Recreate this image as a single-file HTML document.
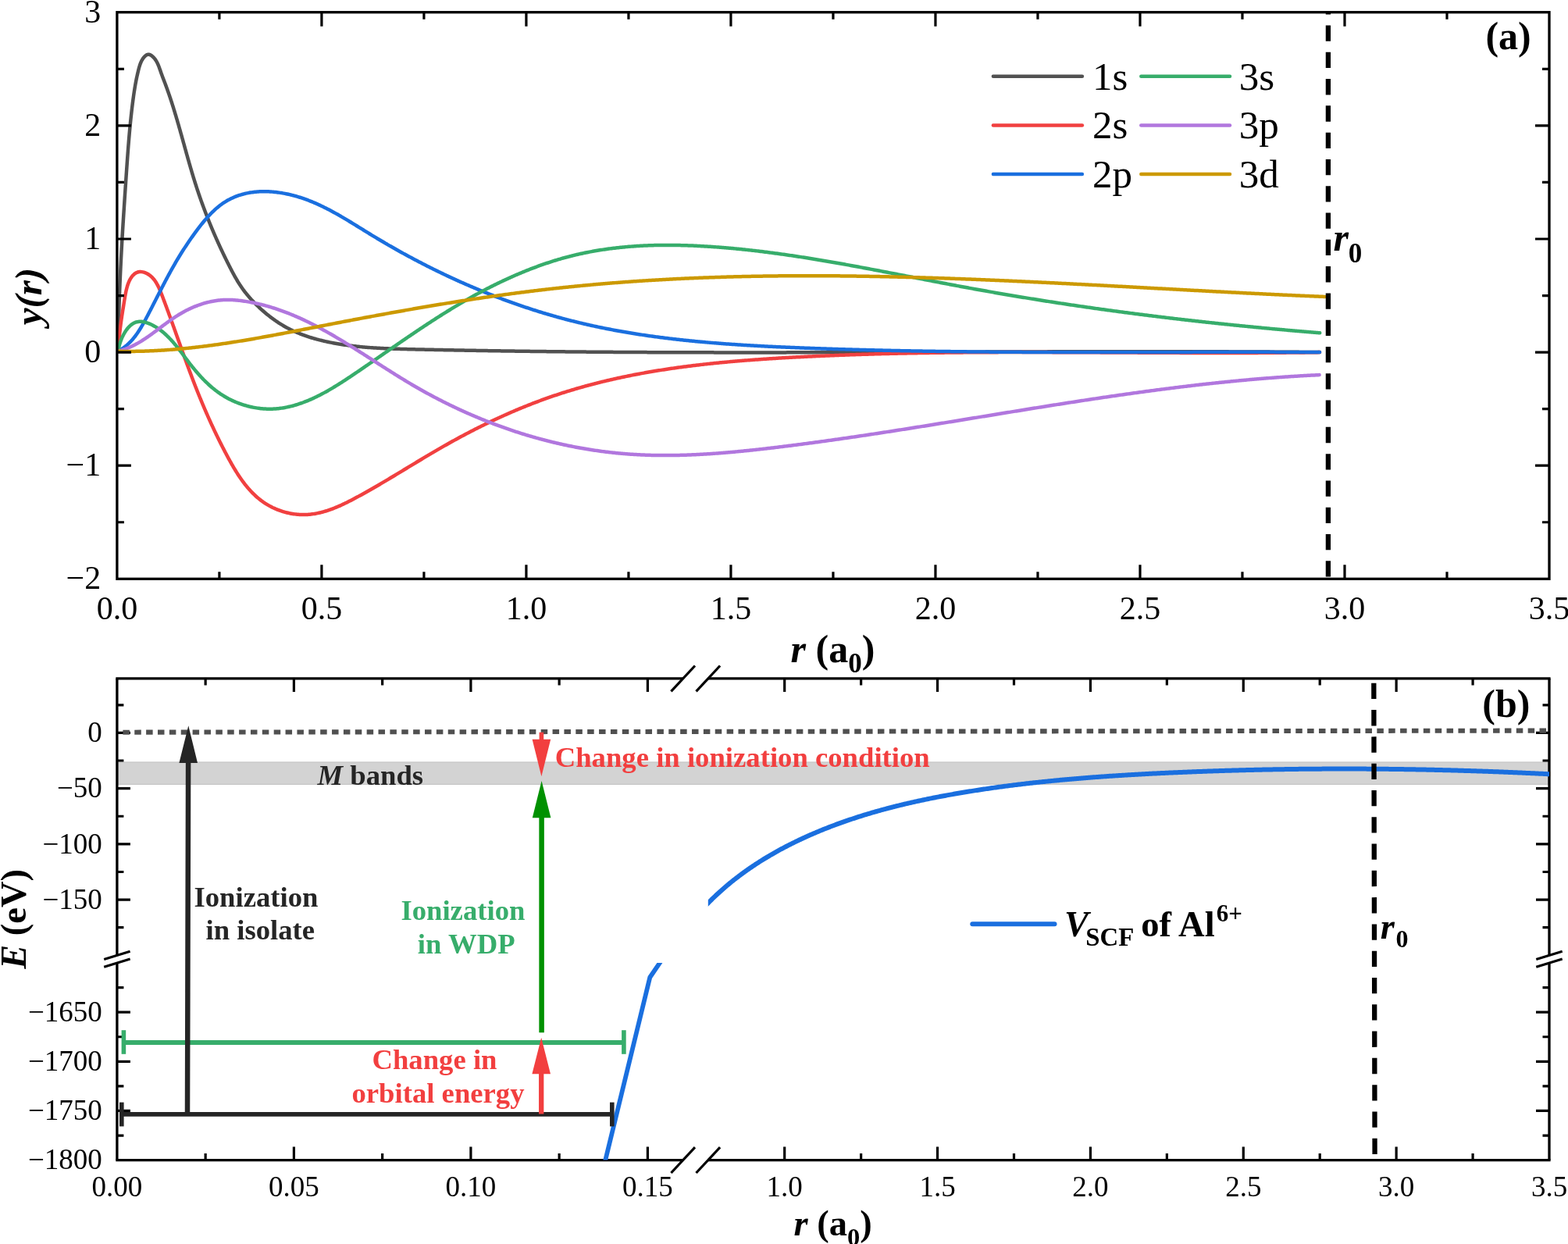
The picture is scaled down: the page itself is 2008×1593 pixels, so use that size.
<!DOCTYPE html>
<html><head><meta charset="utf-8"><title>Figure</title>
<style>html,body{margin:0;padding:0;background:#fff;}svg{display:block;}</style>
</head><body>
<svg width="2008" height="1593" viewBox="0 0 2008 1593">
<rect x="0" y="0" width="2008" height="1593" fill="#ffffff"/>
<g fill="none" stroke-width="4.5" stroke-linecap="round" stroke-linejoin="round">
<path d="M151.50,449.50 L151.51,448.00 L151.51,446.50 L151.52,445.00 L151.53,443.49 L151.54,441.99 L151.55,440.49 L151.56,438.99 L151.58,437.49 L151.59,435.99 L151.61,434.49 L151.63,432.99 L151.64,431.49 L151.66,429.99 L151.68,428.49 L151.70,426.99 L151.73,425.49 L151.75,423.99 L151.78,422.49 L151.80,420.99 L151.83,419.49 L151.86,417.99 L151.89,416.49 L151.92,414.99 L151.95,413.49 L151.98,411.99 L152.01,410.49 L152.05,408.99 L152.08,407.49 L152.12,405.99 L152.16,404.49 L152.19,403.00 L152.23,401.50 L152.27,400.00 L152.32,398.50 L152.36,397.00 L152.40,395.50 L152.44,394.00 L152.49,392.51 L152.54,391.01 L152.58,389.51 L152.63,388.01 L152.68,386.51 L152.73,385.02 L152.78,383.52 L152.83,382.02 L152.88,380.52 L152.93,379.03 L152.99,377.53 L153.04,376.03 L153.10,374.53 L153.16,373.04 L153.21,371.54 L153.27,370.04 L153.33,368.54 L153.39,367.05 L153.45,365.55 L153.51,364.05 L153.57,362.56 L153.64,361.06 L153.70,359.56 L153.76,358.06 L153.83,356.57 L153.89,355.07 L153.96,353.57 L154.03,352.08 L154.10,350.58 L154.17,349.08 L154.23,347.59 L154.31,346.09 L154.38,344.59 L154.45,343.10 L154.52,341.60 L154.59,340.10 L154.67,338.61 L154.74,337.11 L154.82,335.62 L154.89,334.12 L154.97,332.62 L155.04,331.13 L155.12,329.63 L155.20,328.13 L155.28,326.64 L155.36,325.14 L155.44,323.65 L155.52,322.15 L155.60,320.65 L155.68,319.16 L155.76,317.66 L155.85,316.16 L155.93,314.67 L156.01,313.17 L156.10,311.68 L156.18,310.18 L156.27,308.68 L156.35,307.19 L156.44,305.69 L156.53,304.20 L156.61,302.70 L156.70,301.20 L156.79,299.71 L156.88,298.21 L156.97,296.71 L157.06,295.22 L157.15,293.72 L157.24,292.23 L157.33,290.73 L157.42,289.23 L157.51,287.74 L157.60,286.24 L157.70,284.75 L157.79,283.25 L157.88,281.75 L157.98,280.26 L158.07,278.76 L158.17,277.26 L158.26,275.77 L158.36,274.27 L158.45,272.78 L158.55,271.28 L158.64,269.78 L158.74,268.29 L158.84,266.79 L158.93,265.29 L159.03,263.80 L159.13,262.30 L159.23,260.80 L159.33,259.31 L159.42,257.81 L159.52,256.31 L159.62,254.82 L159.72,253.32 L159.82,251.82 L159.92,250.33 L160.02,248.83 L160.12,247.33 L160.22,245.84 L160.32,244.34 L160.42,242.84 L160.52,241.35 L160.62,239.85 L160.72,238.35 L160.83,236.85 L160.93,235.36 L161.03,233.86 L161.13,232.36 L161.23,230.86 L161.34,229.37 L161.44,227.87 L161.54,226.37 L161.64,224.87 L161.74,223.38 L161.85,221.88 L161.95,220.38 L162.05,218.88 L162.16,217.38 L162.26,215.89 L162.36,214.39 L162.47,212.89 L162.57,211.39 L162.68,209.89 L162.78,208.40 L162.89,206.90 L163.00,205.40 L163.10,203.90 L163.21,202.41 L163.32,200.91 L163.43,199.41 L163.54,197.91 L163.65,196.42 L163.76,194.92 L163.87,193.42 L163.99,191.93 L164.10,190.43 L164.22,188.93 L164.33,187.44 L164.45,185.94 L164.57,184.45 L164.69,182.95 L164.81,181.45 L164.93,179.96 L165.06,178.46 L165.18,176.97 L165.31,175.48 L165.44,173.98 L165.57,172.49 L165.70,171.00 L165.83,169.50 L165.97,168.01 L166.10,166.52 L166.24,165.03 L166.38,163.53 L166.52,162.04 L166.67,160.55 L166.81,159.06 L166.96,157.57 L167.11,156.08 L167.26,154.59 L167.41,153.11 L167.57,151.62 L167.72,150.13 L167.88,148.64 L168.04,147.16 L168.21,145.67 L168.37,144.19 L168.54,142.70 L168.71,141.22 L168.89,139.73 L169.06,138.25 L169.24,136.77 L169.42,135.28 L169.61,133.80 L169.79,132.32 L169.98,130.84 L170.17,129.36 L170.37,127.88 L170.57,126.40 L170.77,124.93 L170.97,123.45 L171.18,121.97 L171.39,120.49 L171.61,119.02 L171.83,117.54 L172.06,116.06 L172.30,114.59 L172.53,113.11 L172.78,111.64 L173.03,110.16 L173.29,108.69 L173.55,107.21 L173.82,105.73 L174.10,104.26 L174.39,102.78 L174.68,101.31 L174.99,99.83 L175.30,98.35 L175.62,96.87 L175.94,95.40 L176.28,93.92 L176.63,92.44 L176.99,90.96 L177.35,89.48 L177.73,88.00 L178.13,86.52 L178.55,85.06 L179.01,83.60 L179.50,82.17 L180.04,80.75 L180.64,79.37 L181.29,78.01 L182.01,76.69 L182.81,75.40 L183.69,74.17 L184.65,72.98 L185.70,71.88 L186.82,70.93 L188.01,70.21 L189.24,69.79 L190.51,69.73 L191.81,70.03 L193.09,70.64 L194.35,71.48 L195.54,72.48 L196.65,73.56 L197.68,74.70 L198.62,75.89 L199.48,77.13 L200.28,78.41 L201.01,79.73 L201.69,81.08 L202.33,82.45 L202.92,83.86 L203.48,85.27 L204.02,86.71 L204.53,88.15 L205.03,89.60 L205.53,91.05 L206.03,92.49 L206.54,93.92 L207.05,95.35 L207.57,96.76 L208.10,98.18 L208.63,99.58 L209.17,100.98 L209.70,102.38 L210.24,103.78 L210.77,105.18 L211.30,106.57 L211.83,107.97 L212.35,109.37 L212.86,110.77 L213.38,112.18 L213.88,113.58 L214.39,114.99 L214.89,116.39 L215.38,117.80 L215.88,119.22 L216.36,120.63 L216.85,122.04 L217.33,123.46 L217.81,124.88 L218.28,126.29 L218.75,127.71 L219.22,129.13 L219.68,130.56 L220.14,131.98 L220.60,133.40 L221.05,134.83 L221.50,136.26 L221.95,137.69 L222.39,139.11 L222.84,140.55 L223.28,141.98 L223.71,143.41 L224.15,144.84 L224.58,146.28 L225.01,147.71 L225.44,149.15 L225.87,150.58 L226.29,152.02 L226.72,153.46 L227.14,154.90 L227.55,156.34 L227.97,157.78 L228.39,159.22 L228.80,160.66 L229.21,162.10 L229.63,163.54 L230.04,164.99 L230.45,166.43 L230.85,167.87 L231.26,169.32 L231.67,170.76 L232.07,172.21 L232.48,173.65 L232.88,175.10 L233.28,176.54 L233.69,177.99 L234.09,179.44 L234.49,180.88 L234.89,182.33 L235.29,183.77 L235.70,185.22 L236.10,186.67 L236.50,188.11 L236.90,189.56 L237.30,191.01 L237.71,192.45 L238.11,193.90 L238.51,195.34 L238.92,196.79 L239.32,198.24 L239.73,199.68 L240.13,201.13 L240.54,202.57 L240.95,204.01 L241.36,205.46 L241.77,206.90 L242.18,208.34 L242.60,209.79 L243.01,211.23 L243.43,212.67 L243.85,214.11 L244.27,215.55 L244.69,216.99 L245.11,218.43 L245.54,219.87 L245.97,221.30 L246.40,222.74 L246.83,224.17 L247.26,225.61 L247.70,227.04 L248.14,228.48 L248.58,229.91 L249.03,231.34 L249.48,232.77 L249.93,234.20 L250.38,235.62 L250.84,237.05 L251.29,238.48 L251.76,239.90 L252.22,241.32 L252.69,242.75 L253.16,244.17 L253.64,245.59 L254.12,247.01 L254.60,248.42 L255.08,249.84 L255.57,251.25 L256.06,252.67 L256.56,254.08 L257.05,255.49 L257.55,256.90 L258.06,258.31 L258.56,259.72 L259.07,261.13 L259.59,262.53 L260.10,263.94 L260.62,265.34 L261.14,266.74 L261.67,268.14 L262.20,269.54 L262.73,270.94 L263.26,272.34 L263.80,273.73 L264.34,275.13 L264.89,276.52 L265.43,277.92 L265.98,279.31 L266.53,280.70 L267.09,282.09 L267.65,283.48 L268.21,284.86 L268.78,286.25 L269.34,287.64 L269.91,289.02 L270.49,290.40 L271.06,291.78 L271.64,293.16 L272.23,294.54 L272.81,295.92 L273.40,297.30 L273.99,298.68 L274.58,300.05 L275.18,301.42 L275.78,302.80 L276.39,304.17 L276.99,305.54 L277.60,306.91 L278.21,308.28 L278.83,309.64 L279.44,311.01 L280.06,312.38 L280.69,313.74 L281.31,315.10 L281.94,316.46 L282.57,317.83 L283.21,319.18 L283.84,320.54 L284.48,321.90 L285.13,323.26 L285.77,324.61 L286.42,325.97 L287.07,327.32 L287.73,328.67 L288.38,330.02 L289.04,331.37 L289.71,332.72 L290.37,334.07 L291.04,335.42 L291.71,336.76 L292.38,338.11 L293.06,339.45 L293.74,340.79 L294.42,342.13 L295.11,343.47 L295.80,344.81 L296.49,346.15 L297.19,347.48 L297.89,348.81 L298.60,350.13 L299.32,351.45 L300.04,352.77 L300.77,354.08 L301.51,355.38 L302.26,356.68 L303.01,357.98 L303.78,359.26 L304.55,360.54 L305.33,361.82 L306.13,363.08 L306.93,364.34 L307.75,365.59 L308.58,366.82 L309.42,368.05 L310.27,369.27 L311.14,370.48 L312.02,371.68 L312.91,372.87 L313.82,374.05 L314.74,375.21 L315.67,376.37 L316.62,377.52 L317.57,378.66 L318.54,379.79 L319.52,380.92 L320.50,382.03 L321.50,383.14 L322.51,384.23 L323.53,385.32 L324.56,386.40 L325.60,387.48 L326.64,388.54 L327.70,389.60 L328.76,390.65 L329.83,391.70 L330.92,392.74 L332.00,393.76 L333.10,394.79 L334.21,395.80 L335.32,396.81 L336.44,397.80 L337.57,398.79 L338.71,399.77 L339.85,400.74 L341.00,401.70 L342.17,402.65 L343.33,403.60 L344.51,404.53 L345.70,405.45 L346.89,406.36 L348.09,407.26 L349.30,408.16 L350.51,409.04 L351.74,409.91 L352.97,410.76 L354.21,411.61 L355.45,412.45 L356.70,413.27 L357.97,414.08 L359.23,414.88 L360.51,415.67 L361.79,416.44 L363.08,417.21 L364.38,417.96 L365.69,418.69 L367.00,419.41 L368.32,420.12 L369.64,420.82 L370.98,421.50 L372.32,422.17 L373.66,422.82 L375.02,423.46 L376.38,424.09 L377.74,424.71 L379.12,425.31 L380.49,425.90 L381.88,426.47 L383.27,427.04 L384.66,427.59 L386.06,428.13 L387.47,428.66 L388.88,429.18 L390.29,429.68 L391.71,430.18 L393.13,430.66 L394.56,431.14 L395.99,431.60 L397.42,432.05 L398.86,432.49 L400.30,432.93 L401.75,433.35 L403.19,433.76 L404.65,434.16 L406.10,434.56 L407.55,434.94 L409.01,435.32 L410.47,435.68 L411.93,436.04 L413.40,436.39 L414.86,436.73 L416.33,437.07 L417.80,437.39 L419.27,437.71 L420.74,438.02 L422.21,438.33 L423.68,438.62 L425.15,438.91 L426.62,439.20 L428.10,439.47 L429.57,439.74 L431.05,440.00 L432.52,440.26 L434.00,440.51 L435.48,440.75 L436.96,440.98 L438.44,441.21 L439.92,441.44 L441.40,441.66 L442.88,441.87 L444.36,442.07 L445.84,442.27 L447.32,442.47 L448.81,442.66 L450.29,442.84 L451.78,443.02 L453.26,443.19 L454.75,443.36 L456.23,443.52 L457.72,443.68 L459.21,443.83 L460.69,443.98 L462.18,444.13 L463.67,444.26 L465.16,444.40 L466.65,444.53 L468.14,444.65 L469.63,444.78 L471.12,444.89 L472.62,445.01 L474.11,445.12 L475.60,445.22 L477.09,445.32 L478.59,445.42 L480.08,445.52 L481.58,445.61 L483.07,445.70 L484.56,445.78 L486.06,445.86 L487.55,445.94 L489.05,446.02 L490.55,446.09 L492.04,446.16 L493.54,446.23 L495.04,446.30 L496.53,446.36 L498.03,446.42 L499.53,446.48 L501.03,446.53 L502.52,446.59 L504.02,446.64 L505.52,446.69 L507.02,446.74 L508.52,446.78 L510.02,446.83 L511.52,446.87 L513.02,446.92 L514.52,446.96 L516.02,447.00 L517.51,447.04 L519.01,447.07 L520.51,447.11 L522.01,447.15 L523.51,447.18 L525.01,447.22 L526.51,447.25 L528.01,447.29 L529.51,447.32 L531.01,447.35 L532.51,447.39 L534.01,447.42 L535.51,447.45 L537.01,447.49 L538.51,447.52 L540.01,447.55 L541.51,447.58 L543.01,447.62 L544.51,447.65 L546.01,447.68 L547.51,447.71 L549.01,447.74 L550.51,447.77 L552.01,447.81 L553.51,447.84 L555.01,447.87 L556.51,447.90 L558.01,447.93 L559.51,447.96 L561.01,447.99 L562.51,448.02 L564.01,448.05 L565.51,448.08 L567.01,448.11 L568.51,448.14 L570.01,448.17 L571.51,448.20 L573.01,448.23 L574.51,448.25 L576.01,448.28 L577.51,448.31 L579.01,448.34 L580.51,448.37 L582.01,448.40 L583.51,448.42 L585.01,448.45 L586.51,448.48 L588.01,448.51 L589.51,448.53 L591.01,448.56 L592.51,448.59 L594.01,448.61 L595.51,448.64 L597.01,448.67 L598.51,448.69 L600.01,448.72 L601.51,448.75 L603.01,448.77 L604.51,448.80 L606.01,448.82 L607.51,448.85 L609.01,448.87 L610.51,448.90 L612.01,448.92 L613.50,448.95 L615.00,448.97 L616.50,449.00 L618.00,449.02 L619.50,449.04 L621.00,449.07 L622.50,449.09 L624.00,449.12 L625.50,449.14 L627.00,449.16 L628.50,449.19 L630.00,449.21 L631.50,449.23 L633.00,449.26 L634.50,449.28 L636.00,449.30 L637.50,449.32 L639.00,449.35 L640.50,449.37 L642.00,449.39 L643.50,449.41 L645.00,449.43 L646.50,449.45 L648.00,449.48 L649.50,449.50 L651.00,449.52 L652.50,449.54 L654.00,449.56 L655.50,449.58 L657.00,449.60 L658.49,449.62 L659.99,449.64 L661.49,449.66 L662.99,449.68 L664.49,449.70 L665.99,449.72 L667.49,449.74 L668.99,449.76 L670.49,449.78 L671.99,449.80 L673.49,449.82 L674.99,449.84 L676.49,449.86 L677.99,449.87 L679.49,449.89 L680.99,449.91 L682.49,449.93 L683.99,449.95 L685.49,449.96 L686.99,449.98 L688.49,450.00 L689.99,450.02 L691.49,450.04 L692.98,450.05 L694.48,450.07 L695.98,450.09 L697.48,450.10 L698.98,450.12 L700.48,450.14 L701.98,450.15 L703.48,450.17 L704.98,450.19 L706.48,450.20 L707.98,450.22 L709.48,450.23 L710.98,450.25 L712.48,450.27 L713.98,450.28 L715.48,450.30 L716.98,450.31 L718.48,450.33 L719.98,450.34 L721.48,450.36 L722.97,450.37 L724.47,450.39 L725.97,450.40 L727.47,450.41 L728.97,450.43 L730.47,450.44 L731.97,450.46 L733.47,450.47 L734.97,450.48 L736.47,450.50 L737.97,450.51 L739.47,450.53 L740.97,450.54 L742.47,450.55 L743.97,450.57 L745.47,450.58 L746.97,450.59 L748.46,450.60 L749.96,450.62 L751.46,450.63 L752.96,450.64 L754.46,450.65 L755.96,450.67 L757.46,450.68 L758.96,450.69 L760.46,450.70 L761.96,450.71 L763.46,450.72 L764.96,450.74 L766.46,450.75 L767.96,450.76 L769.46,450.77 L770.96,450.78 L772.46,450.79 L773.95,450.80 L775.45,450.81 L776.95,450.82 L778.45,450.83 L779.95,450.84 L781.45,450.85 L782.95,450.86 L784.45,450.87 L785.95,450.88 L787.45,450.89 L788.95,450.90 L790.45,450.91 L791.95,450.92 L793.45,450.93 L794.95,450.94 L796.44,450.95 L797.94,450.96 L799.44,450.97 L800.94,450.98 L802.44,450.99 L803.94,451.00 L805.44,451.00 L806.94,451.01 L808.44,451.02 L809.94,451.03 L811.44,451.04 L812.94,451.05 L814.44,451.05 L815.94,451.06 L817.43,451.07 L818.93,451.08 L820.43,451.08 L821.93,451.09 L823.43,451.10 L824.93,451.11 L826.43,451.11 L827.93,451.12 L829.43,451.13 L830.93,451.13 L832.43,451.14 L833.93,451.15 L835.43,451.15 L836.93,451.16 L838.42,451.17 L839.92,451.17 L841.42,451.18 L842.92,451.19 L844.42,451.19 L845.92,451.20 L847.42,451.20 L848.92,451.21 L850.42,451.21 L851.92,451.22 L853.42,451.23 L854.92,451.23 L856.42,451.24 L857.91,451.24 L859.41,451.25 L860.91,451.25 L862.41,451.26 L863.91,451.26 L865.41,451.27 L866.91,451.27 L868.41,451.28 L869.91,451.28 L871.41,451.28 L872.91,451.29 L874.41,451.29 L875.91,451.30 L877.40,451.30 L878.90,451.31 L880.40,451.31 L881.90,451.31 L883.40,451.32 L884.90,451.32 L886.40,451.32 L887.90,451.33 L889.40,451.33 L890.90,451.33 L892.40,451.34 L893.90,451.34 L895.39,451.34 L896.89,451.35 L898.39,451.35 L899.89,451.35 L901.39,451.36 L902.89,451.36 L904.39,451.36 L905.89,451.36 L907.39,451.37 L908.89,451.37 L910.39,451.37 L911.89,451.37 L913.38,451.37 L914.88,451.38 L916.38,451.38 L917.88,451.38 L919.38,451.38 L920.88,451.38 L922.38,451.39 L923.88,451.39 L925.38,451.39 L926.88,451.39 L928.38,451.39 L929.88,451.39 L931.37,451.39 L932.87,451.40 L934.37,451.40 L935.87,451.40 L937.37,451.40 L938.87,451.40 L940.37,451.40 L941.87,451.40 L943.37,451.40 L944.87,451.40 L946.37,451.40 L947.86,451.40 L949.36,451.40 L950.86,451.41 L952.36,451.41 L953.86,451.41 L955.36,451.41 L956.86,451.41 L958.36,451.41 L959.86,451.41 L961.36,451.41 L962.86,451.41 L964.35,451.41 L965.85,451.41 L967.35,451.41 L968.85,451.40 L970.35,451.40 L971.85,451.40 L973.35,451.40 L974.85,451.40 L976.35,451.40 L977.85,451.40 L979.35,451.40 L980.85,451.40 L982.34,451.40 L983.84,451.40 L985.34,451.40 L986.84,451.40 L988.34,451.39 L989.84,451.39 L991.34,451.39 L992.84,451.39 L994.34,451.39 L995.84,451.39 L997.34,451.39 L998.83,451.39 L1000.33,451.38 L1001.83,451.38 L1003.33,451.38 L1004.83,451.38 L1006.33,451.38 L1007.83,451.37 L1009.33,451.37 L1010.83,451.37 L1012.33,451.37 L1013.82,451.37 L1015.32,451.36 L1016.82,451.36 L1018.32,451.36 L1019.82,451.36 L1021.32,451.36 L1022.82,451.35 L1024.32,451.35 L1025.82,451.35 L1027.32,451.35 L1028.82,451.34 L1030.31,451.34 L1031.81,451.34 L1033.31,451.34 L1034.81,451.33 L1036.31,451.33 L1037.81,451.33 L1039.31,451.32 L1040.81,451.32 L1042.31,451.32 L1043.81,451.32 L1045.31,451.31 L1046.80,451.31 L1048.30,451.31 L1049.80,451.30 L1051.30,451.30 L1052.80,451.30 L1054.30,451.29 L1055.80,451.29 L1057.30,451.29 L1058.80,451.28 L1060.30,451.28 L1061.79,451.28 L1063.29,451.27 L1064.79,451.27 L1066.29,451.27 L1067.79,451.26 L1069.29,451.26 L1070.79,451.26 L1072.29,451.25 L1073.79,451.25 L1075.29,451.24 L1076.79,451.24 L1078.28,451.24 L1079.78,451.23 L1081.28,451.23 L1082.78,451.22 L1084.28,451.22 L1085.78,451.22 L1087.28,451.21 L1088.78,451.21 L1090.28,451.20 L1091.78,451.20 L1093.27,451.20 L1094.77,451.19 L1096.27,451.19 L1097.77,451.18 L1099.27,451.18 L1100.77,451.18 L1102.27,451.17 L1103.77,451.17 L1105.27,451.16 L1106.77,451.16 L1108.27,451.15 L1109.76,451.15 L1111.26,451.14 L1112.76,451.14 L1114.26,451.14 L1115.76,451.13 L1117.26,451.13 L1118.76,451.12 L1120.26,451.12 L1121.76,451.11 L1123.26,451.11 L1124.75,451.10 L1126.25,451.10 L1127.75,451.09 L1129.25,451.09 L1130.75,451.08 L1132.25,451.08 L1133.75,451.07 L1135.25,451.07 L1136.75,451.06 L1138.25,451.06 L1139.74,451.05 L1141.24,451.05 L1142.74,451.04 L1144.24,451.04 L1145.74,451.03 L1147.24,451.03 L1148.74,451.02 L1150.24,451.02 L1151.74,451.01 L1153.24,451.01 L1154.74,451.00 L1156.23,451.00 L1157.73,450.99 L1159.23,450.99 L1160.73,450.98 L1162.23,450.98 L1163.73,450.97 L1165.23,450.97 L1166.73,450.96 L1168.23,450.96 L1169.73,450.95 L1171.22,450.95 L1172.72,450.94 L1174.22,450.94 L1175.72,450.93 L1177.22,450.93 L1178.72,450.92 L1180.22,450.92 L1181.72,450.91 L1183.22,450.90 L1184.72,450.90 L1186.22,450.89 L1187.71,450.89 L1189.21,450.88 L1190.71,450.88 L1192.21,450.87 L1193.71,450.87 L1195.21,450.86 L1196.71,450.86 L1198.21,450.85 L1199.71,450.85 L1201.21,450.84 L1202.70,450.84 L1204.20,450.83 L1205.70,450.82 L1207.20,450.82 L1208.70,450.81 L1210.20,450.81 L1211.70,450.80 L1213.20,450.80 L1214.70,450.79 L1216.20,450.79 L1217.70,450.78 L1219.19,450.78 L1220.69,450.77 L1222.19,450.77 L1223.69,450.76 L1225.19,450.75 L1226.69,450.75 L1228.19,450.74 L1229.69,450.74 L1231.19,450.73 L1232.69,450.73 L1234.19,450.72 L1235.68,450.72 L1237.18,450.71 L1238.68,450.71 L1240.18,450.70 L1241.68,450.70 L1243.18,450.69 L1244.68,450.68 L1246.18,450.68 L1247.68,450.67 L1249.18,450.67 L1250.68,450.66 L1252.17,450.66 L1253.67,450.65 L1255.17,450.65 L1256.67,450.64 L1258.17,450.64 L1259.67,450.63 L1261.17,450.63 L1262.67,450.62 L1264.17,450.62 L1265.67,450.61 L1267.17,450.61 L1268.66,450.60 L1270.16,450.60 L1271.66,450.59 L1273.16,450.59 L1274.66,450.58 L1276.16,450.58 L1277.66,450.57 L1279.16,450.57 L1280.66,450.56 L1282.16,450.56 L1283.66,450.55 L1285.15,450.55 L1286.65,450.54 L1288.15,450.54 L1289.65,450.53 L1291.15,450.53 L1292.65,450.52 L1294.15,450.52 L1295.65,450.51 L1297.15,450.51 L1298.65,450.50 L1300.15,450.50 L1301.64,450.49 L1303.14,450.49 L1304.64,450.48 L1306.14,450.48 L1307.64,450.47 L1309.14,450.47 L1310.64,450.46 L1312.14,450.46 L1313.64,450.46 L1315.14,450.45 L1316.64,450.45 L1318.14,450.44 L1319.63,450.44 L1321.13,450.43 L1322.63,450.43 L1324.13,450.42 L1325.63,450.42 L1327.13,450.42 L1328.63,450.41 L1330.13,450.41 L1331.63,450.40 L1333.13,450.40 L1334.63,450.39 L1336.12,450.39 L1337.62,450.39 L1339.12,450.38 L1340.62,450.38 L1342.12,450.37 L1343.62,450.37 L1345.12,450.37 L1346.62,450.36 L1348.12,450.36 L1349.62,450.35 L1351.12,450.35 L1352.62,450.35 L1354.11,450.34 L1355.61,450.34 L1357.11,450.34 L1358.61,450.33 L1360.11,450.33 L1361.61,450.32 L1363.11,450.32 L1364.61,450.32 L1366.11,450.31 L1367.61,450.31 L1369.11,450.31 L1370.61,450.30 L1372.11,450.30 L1373.60,450.30 L1375.10,450.29 L1376.60,450.29 L1378.10,450.29 L1379.60,450.29 L1381.10,450.28 L1382.60,450.28 L1384.10,450.28 L1385.60,450.27 L1387.10,450.27 L1388.60,450.27 L1390.10,450.26 L1391.60,450.26 L1393.09,450.26 L1394.59,450.26 L1396.09,450.25 L1397.59,450.25 L1399.09,450.25 L1400.59,450.25 L1402.09,450.24 L1403.59,450.24 L1405.09,450.24 L1406.59,450.24 L1408.09,450.23 L1409.59,450.23 L1411.09,450.23 L1412.58,450.23 L1414.08,450.23 L1415.58,450.22 L1417.08,450.22 L1418.58,450.22 L1420.08,450.22 L1421.58,450.22 L1423.08,450.22 L1424.58,450.21 L1426.08,450.21 L1427.58,450.21 L1429.08,450.21 L1430.58,450.21 L1432.08,450.21 L1433.57,450.20 L1435.07,450.20 L1436.57,450.20 L1438.07,450.20 L1439.57,450.20 L1441.07,450.20 L1442.57,450.20 L1444.07,450.20 L1445.57,450.20 L1447.07,450.20 L1448.57,450.19 L1450.07,450.19 L1451.57,450.19 L1453.07,450.19 L1454.56,450.19 L1456.06,450.19 L1457.56,450.19 L1459.06,450.19 L1460.56,450.19 L1462.06,450.19 L1463.56,450.19 L1465.06,450.19 L1466.56,450.19 L1468.06,450.19 L1469.56,450.19 L1471.06,450.19 L1472.56,450.19 L1474.06,450.19 L1475.56,450.19 L1477.06,450.19 L1478.55,450.19 L1480.05,450.19 L1481.55,450.19 L1483.05,450.19 L1484.55,450.19 L1486.05,450.19 L1487.55,450.20 L1489.05,450.20 L1490.55,450.20 L1492.05,450.20 L1493.55,450.20 L1495.05,450.20 L1496.55,450.20 L1498.05,450.20 L1499.55,450.21 L1501.05,450.21 L1502.54,450.21 L1504.04,450.21 L1505.54,450.21 L1507.04,450.21 L1508.54,450.22 L1510.04,450.22 L1511.54,450.22 L1513.04,450.22 L1514.54,450.22 L1516.04,450.23 L1517.54,450.23 L1519.04,450.23 L1520.54,450.23 L1522.04,450.24 L1523.54,450.24 L1525.04,450.24 L1526.54,450.24 L1528.04,450.25 L1529.53,450.25 L1531.03,450.25 L1532.53,450.26 L1534.03,450.26 L1535.53,450.26 L1537.03,450.27 L1538.53,450.27 L1540.03,450.27 L1541.53,450.28 L1543.03,450.28 L1544.53,450.28 L1546.03,450.29 L1547.53,450.29 L1549.03,450.30 L1550.53,450.30 L1552.03,450.30 L1553.53,450.31 L1555.03,450.31 L1556.53,450.32 L1558.03,450.32 L1559.53,450.33 L1561.02,450.33 L1562.52,450.34 L1564.02,450.34 L1565.52,450.35 L1567.02,450.35 L1568.52,450.36 L1570.02,450.36 L1571.52,450.37 L1573.02,450.37 L1574.52,450.38 L1576.02,450.38 L1577.52,450.39 L1579.02,450.39 L1580.52,450.40 L1582.02,450.41 L1583.52,450.41 L1585.02,450.42 L1586.52,450.42 L1588.02,450.43 L1589.52,450.44 L1591.02,450.44 L1592.52,450.45 L1594.02,450.46 L1595.52,450.46 L1597.01,450.47 L1598.51,450.48 L1600.01,450.48 L1601.51,450.49 L1603.01,450.50 L1604.51,450.51 L1606.01,450.51 L1607.51,450.52 L1609.01,450.53 L1610.51,450.54 L1612.01,450.54 L1613.51,450.55 L1615.01,450.56 L1616.51,450.57 L1618.01,450.58 L1619.51,450.59 L1621.01,450.59 L1622.51,450.60 L1624.01,450.61 L1625.51,450.62 L1627.01,450.63 L1628.51,450.64 L1630.01,450.65 L1631.51,450.66 L1633.01,450.67 L1634.51,450.67 L1636.01,450.68 L1637.51,450.69 L1639.01,450.70 L1640.51,450.71 L1642.01,450.72 L1643.51,450.73 L1645.01,450.74 L1646.51,450.75 L1648.00,450.76 L1649.50,450.77 L1651.00,450.79 L1652.50,450.80 L1654.00,450.81 L1655.50,450.82 L1657.00,450.83 L1658.50,450.84 L1660.00,450.85 L1661.50,450.86 L1663.00,450.87 L1664.50,450.89 L1666.00,450.90 L1667.50,450.91 L1669.00,450.92 L1670.50,450.93 L1672.00,450.95 L1673.50,450.96 L1675.00,450.97 L1676.50,450.98 L1678.00,450.99 L1679.50,451.01 L1681.00,451.02 L1682.50,451.03 L1684.00,451.05 L1685.50,451.06 L1687.00,451.07 L1688.50,451.09 L1690.00,451.10" stroke="#515151"/>
<path d="M151.50,449.50 L151.58,447.86 L151.66,446.24 L151.75,444.64 L151.85,443.06 L151.95,441.50 L152.05,439.95 L152.16,438.42 L152.28,436.91 L152.40,435.40 L152.53,433.91 L152.66,432.44 L152.79,430.97 L152.93,429.52 L153.08,428.07 L153.23,426.63 L153.39,425.20 L153.54,423.78 L153.71,422.36 L153.88,420.95 L154.05,419.54 L154.23,418.13 L154.41,416.73 L154.59,415.32 L154.78,413.92 L154.98,412.52 L155.17,411.11 L155.37,409.70 L155.58,408.29 L155.79,406.88 L156.00,405.46 L156.21,404.03 L156.43,402.60 L156.66,401.16 L156.88,399.71 L157.11,398.25 L157.34,396.77 L157.58,395.29 L157.82,393.80 L158.06,392.29 L158.31,390.77 L158.55,389.23 L158.80,387.68 L159.06,386.11 L159.31,384.52 L159.57,382.91 L159.84,381.29 L160.11,379.67 L160.40,378.03 L160.70,376.40 L161.02,374.77 L161.35,373.14 L161.71,371.53 L162.10,369.93 L162.51,368.35 L162.95,366.79 L163.42,365.26 L163.93,363.76 L164.48,362.29 L165.07,360.86 L165.70,359.48 L166.38,358.14 L167.11,356.86 L167.89,355.62 L168.72,354.45 L169.61,353.34 L170.56,352.30 L171.58,351.33 L172.65,350.44 L173.78,349.67 L174.96,349.03 L176.20,348.55 L177.48,348.23 L178.79,348.05 L180.13,348.02 L181.49,348.12 L182.85,348.35 L184.21,348.68 L185.56,349.13 L186.89,349.66 L188.19,350.28 L189.46,350.98 L190.67,351.75 L191.83,352.58 L192.94,353.46 L193.99,354.39 L195.00,355.38 L195.97,356.42 L196.89,357.50 L197.77,358.63 L198.62,359.79 L199.43,361.00 L200.20,362.24 L200.94,363.51 L201.66,364.81 L202.34,366.14 L203.01,367.49 L203.65,368.86 L204.27,370.26 L204.88,371.67 L205.47,373.09 L206.05,374.52 L206.61,375.96 L207.18,377.41 L207.73,378.86 L208.28,380.31 L208.83,381.76 L209.38,383.21 L209.92,384.65 L210.47,386.10 L211.01,387.55 L211.55,388.99 L212.09,390.43 L212.62,391.88 L213.16,393.32 L213.69,394.76 L214.22,396.20 L214.75,397.63 L215.28,399.07 L215.81,400.51 L216.33,401.94 L216.85,403.38 L217.38,404.81 L217.90,406.24 L218.42,407.68 L218.94,409.11 L219.45,410.54 L219.97,411.97 L220.49,413.39 L221.00,414.82 L221.51,416.25 L222.03,417.67 L222.54,419.10 L223.05,420.52 L223.56,421.94 L224.07,423.36 L224.58,424.79 L225.08,426.21 L225.59,427.62 L226.10,429.04 L226.60,430.46 L227.11,431.88 L227.62,433.29 L228.12,434.71 L228.63,436.12 L229.13,437.53 L229.64,438.94 L230.14,440.35 L230.65,441.76 L231.15,443.17 L231.65,444.58 L232.16,445.99 L232.66,447.40 L233.17,448.80 L233.67,450.21 L234.18,451.61 L234.69,453.01 L235.19,454.42 L235.70,455.82 L236.21,457.22 L236.71,458.62 L237.22,460.02 L237.73,461.42 L238.24,462.81 L238.75,464.21 L239.26,465.61 L239.77,467.00 L240.29,468.40 L240.80,469.79 L241.31,471.18 L241.83,472.57 L242.35,473.96 L242.86,475.35 L243.38,476.74 L243.90,478.13 L244.43,479.52 L244.95,480.91 L245.47,482.29 L246.00,483.68 L246.52,485.06 L247.05,486.45 L247.58,487.83 L248.12,489.21 L248.65,490.59 L249.18,491.97 L249.72,493.35 L250.26,494.73 L250.80,496.11 L251.34,497.49 L251.89,498.86 L252.43,500.24 L252.98,501.62 L253.53,502.99 L254.08,504.36 L254.64,505.74 L255.20,507.11 L255.76,508.48 L256.32,509.85 L256.88,511.22 L257.45,512.59 L258.01,513.96 L258.58,515.33 L259.16,516.70 L259.73,518.07 L260.31,519.43 L260.89,520.80 L261.47,522.17 L262.06,523.53 L262.64,524.89 L263.23,526.26 L263.83,527.62 L264.42,528.99 L265.02,530.35 L265.62,531.71 L266.22,533.07 L266.83,534.43 L267.44,535.80 L268.05,537.16 L268.66,538.52 L269.28,539.88 L269.90,541.24 L270.52,542.59 L271.14,543.95 L271.77,545.31 L272.40,546.67 L273.04,548.03 L273.67,549.39 L274.31,550.74 L274.96,552.10 L275.60,553.46 L276.25,554.81 L276.90,556.17 L277.56,557.53 L278.22,558.88 L278.88,560.24 L279.54,561.59 L280.21,562.95 L280.88,564.31 L281.56,565.66 L282.24,567.02 L282.92,568.37 L283.60,569.73 L284.29,571.08 L284.98,572.44 L285.68,573.79 L286.38,575.15 L287.08,576.50 L287.79,577.86 L288.49,579.21 L289.21,580.57 L289.92,581.92 L290.64,583.28 L291.37,584.63 L292.10,585.98 L292.83,587.34 L293.57,588.69 L294.31,590.03 L295.06,591.38 L295.81,592.72 L296.57,594.06 L297.33,595.40 L298.11,596.73 L298.88,598.06 L299.66,599.38 L300.45,600.70 L301.25,602.01 L302.06,603.31 L302.87,604.61 L303.69,605.91 L304.51,607.19 L305.35,608.47 L306.19,609.74 L307.04,611.01 L307.90,612.26 L308.77,613.51 L309.65,614.74 L310.54,615.97 L311.43,617.19 L312.34,618.39 L313.26,619.59 L314.18,620.77 L315.12,621.95 L316.07,623.11 L317.03,624.26 L318.00,625.39 L318.98,626.51 L319.97,627.62 L320.98,628.72 L321.99,629.80 L323.02,630.87 L324.06,631.92 L325.12,632.96 L326.18,633.98 L327.26,634.98 L328.36,635.97 L329.47,636.94 L330.59,637.90 L331.72,638.83 L332.87,639.75 L334.03,640.65 L335.21,641.54 L336.40,642.40 L337.61,643.24 L338.84,644.07 L340.08,644.87 L341.33,645.65 L342.60,646.42 L343.88,647.16 L345.18,647.88 L346.49,648.58 L347.81,649.26 L349.14,649.92 L350.49,650.55 L351.85,651.17 L353.21,651.76 L354.59,652.33 L355.98,652.88 L357.38,653.41 L358.78,653.91 L360.20,654.40 L361.62,654.86 L363.05,655.29 L364.48,655.71 L365.93,656.10 L367.37,656.46 L368.83,656.81 L370.29,657.13 L371.75,657.42 L373.22,657.69 L374.69,657.94 L376.16,658.17 L377.64,658.37 L379.11,658.54 L380.59,658.69 L382.07,658.82 L383.55,658.92 L385.03,658.99 L386.52,659.04 L388.00,659.07 L389.47,659.07 L390.95,659.04 L392.42,658.99 L393.90,658.91 L395.36,658.80 L396.83,658.67 L398.29,658.52 L399.75,658.34 L401.21,658.14 L402.67,657.92 L404.12,657.67 L405.57,657.40 L407.01,657.11 L408.46,656.80 L409.90,656.47 L411.34,656.11 L412.77,655.74 L414.20,655.35 L415.63,654.94 L417.06,654.52 L418.49,654.07 L419.91,653.61 L421.33,653.13 L422.74,652.64 L424.16,652.13 L425.57,651.61 L426.97,651.07 L428.38,650.52 L429.78,649.95 L431.18,649.37 L432.58,648.78 L433.97,648.18 L435.36,647.57 L436.75,646.94 L438.14,646.31 L439.52,645.66 L440.90,645.01 L442.28,644.34 L443.66,643.67 L445.03,642.99 L446.40,642.30 L447.77,641.61 L449.13,640.91 L450.49,640.20 L451.85,639.49 L453.21,638.78 L454.56,638.06 L455.91,637.33 L457.26,636.60 L458.61,635.87 L459.95,635.14 L461.29,634.41 L462.63,633.67 L463.96,632.93 L465.30,632.19 L466.63,631.45 L467.96,630.71 L469.28,629.97 L470.60,629.22 L471.92,628.48 L473.24,627.73 L474.56,626.98 L475.87,626.23 L477.19,625.48 L478.50,624.72 L479.80,623.97 L481.11,623.22 L482.42,622.46 L483.72,621.70 L485.02,620.94 L486.32,620.19 L487.62,619.43 L488.91,618.66 L490.21,617.90 L491.50,617.14 L492.79,616.38 L494.08,615.61 L495.37,614.85 L496.66,614.08 L497.94,613.32 L499.23,612.55 L500.51,611.78 L501.79,611.02 L503.07,610.25 L504.35,609.48 L505.63,608.71 L506.91,607.94 L508.19,607.17 L509.47,606.40 L510.74,605.63 L512.02,604.86 L513.29,604.09 L514.57,603.32 L515.84,602.55 L517.11,601.78 L518.39,601.01 L519.66,600.24 L520.93,599.47 L522.20,598.70 L523.47,597.93 L524.75,597.16 L526.02,596.39 L527.29,595.62 L528.56,594.85 L529.83,594.09 L531.10,593.32 L532.37,592.55 L533.64,591.78 L534.92,591.02 L536.19,590.25 L537.46,589.49 L538.73,588.72 L540.01,587.96 L541.28,587.19 L542.55,586.43 L543.83,585.67 L545.10,584.91 L546.38,584.15 L547.66,583.39 L548.93,582.63 L550.21,581.87 L551.49,581.12 L552.77,580.36 L554.05,579.61 L555.33,578.86 L556.62,578.10 L557.90,577.35 L559.19,576.61 L560.47,575.86 L561.76,575.11 L563.05,574.37 L564.34,573.62 L565.63,572.88 L566.93,572.14 L568.22,571.40 L569.52,570.66 L570.82,569.93 L572.12,569.19 L573.42,568.46 L574.72,567.73 L576.03,567.00 L577.34,566.27 L578.64,565.54 L579.95,564.82 L581.26,564.10 L582.58,563.38 L583.89,562.66 L585.21,561.94 L586.53,561.23 L587.84,560.51 L589.16,559.80 L590.49,559.09 L591.81,558.38 L593.14,557.68 L594.46,556.97 L595.79,556.27 L597.12,555.57 L598.45,554.87 L599.78,554.17 L601.12,553.48 L602.45,552.79 L603.79,552.10 L605.12,551.41 L606.46,550.72 L607.80,550.04 L609.15,549.36 L610.49,548.68 L611.84,548.00 L613.18,547.33 L614.53,546.65 L615.88,545.98 L617.23,545.31 L618.58,544.65 L619.93,543.98 L621.29,543.32 L622.64,542.66 L624.00,542.00 L625.36,541.35 L626.72,540.70 L628.08,540.05 L629.44,539.40 L630.80,538.75 L632.17,538.11 L633.53,537.47 L634.90,536.83 L636.27,536.19 L637.64,535.56 L639.01,534.93 L640.38,534.30 L641.75,533.68 L643.12,533.05 L644.50,532.43 L645.88,531.81 L647.25,531.20 L648.63,530.59 L650.01,529.98 L651.39,529.37 L652.77,528.76 L654.16,528.16 L655.54,527.56 L656.93,526.97 L658.31,526.37 L659.70,525.78 L661.09,525.19 L662.48,524.61 L663.87,524.02 L665.26,523.44 L666.65,522.87 L668.04,522.29 L669.44,521.72 L670.83,521.15 L672.23,520.59 L673.63,520.02 L675.03,519.47 L676.43,518.91 L677.83,518.36 L679.23,517.80 L680.63,517.26 L682.03,516.71 L683.44,516.17 L684.84,515.63 L686.25,515.10 L687.65,514.57 L689.06,514.04 L690.47,513.51 L691.88,512.99 L693.29,512.47 L694.70,511.95 L696.11,511.44 L697.53,510.93 L698.94,510.42 L700.35,509.92 L701.77,509.42 L703.19,508.92 L704.60,508.43 L706.02,507.94 L707.44,507.45 L708.86,506.97 L710.28,506.49 L711.70,506.01 L713.12,505.54 L714.54,505.07 L715.97,504.60 L717.39,504.13 L718.82,503.67 L720.24,503.21 L721.67,502.76 L723.09,502.31 L724.52,501.86 L725.95,501.41 L727.38,500.97 L728.81,500.53 L730.24,500.09 L731.67,499.66 L733.10,499.23 L734.54,498.80 L735.97,498.37 L737.41,497.95 L738.84,497.53 L740.28,497.12 L741.71,496.70 L743.15,496.29 L744.59,495.89 L746.03,495.48 L747.47,495.08 L748.91,494.68 L750.35,494.28 L751.79,493.89 L753.23,493.50 L754.67,493.11 L756.12,492.73 L757.56,492.35 L759.00,491.97 L760.45,491.59 L761.89,491.22 L763.34,490.85 L764.79,490.48 L766.24,490.12 L767.69,489.75 L769.13,489.39 L770.58,489.04 L772.03,488.68 L773.49,488.33 L774.94,487.98 L776.39,487.63 L777.84,487.29 L779.30,486.95 L780.75,486.61 L782.20,486.27 L783.66,485.94 L785.12,485.61 L786.57,485.28 L788.03,484.96 L789.49,484.63 L790.94,484.31 L792.40,483.99 L793.86,483.68 L795.32,483.37 L796.78,483.05 L798.24,482.75 L799.70,482.44 L801.17,482.14 L802.63,481.84 L804.09,481.54 L805.56,481.24 L807.02,480.95 L808.49,480.66 L809.95,480.37 L811.42,480.08 L812.88,479.79 L814.35,479.51 L815.82,479.23 L817.28,478.96 L818.75,478.68 L820.22,478.41 L821.69,478.14 L823.16,477.87 L824.63,477.60 L826.10,477.34 L827.57,477.08 L829.04,476.82 L830.52,476.56 L831.99,476.30 L833.46,476.05 L834.94,475.80 L836.41,475.55 L837.88,475.30 L839.36,475.06 L840.83,474.82 L842.31,474.58 L843.79,474.34 L845.26,474.10 L846.74,473.87 L848.22,473.64 L849.70,473.41 L851.17,473.18 L852.65,472.95 L854.13,472.73 L855.61,472.51 L857.09,472.29 L858.57,472.07 L860.05,471.85 L861.53,471.64 L863.02,471.42 L864.50,471.21 L865.98,471.01 L867.46,470.80 L868.94,470.59 L870.43,470.39 L871.91,470.19 L873.40,469.99 L874.88,469.79 L876.37,469.60 L877.85,469.40 L879.34,469.21 L880.82,469.02 L882.31,468.83 L883.79,468.65 L885.28,468.46 L886.77,468.28 L888.26,468.10 L889.74,467.92 L891.23,467.74 L892.72,467.56 L894.21,467.39 L895.70,467.21 L897.19,467.04 L898.68,466.87 L900.17,466.70 L901.66,466.53 L903.15,466.37 L904.64,466.21 L906.13,466.04 L907.62,465.88 L909.11,465.72 L910.60,465.57 L912.10,465.41 L913.59,465.26 L915.08,465.10 L916.57,464.95 L918.07,464.80 L919.56,464.65 L921.05,464.51 L922.55,464.36 L924.04,464.22 L925.53,464.07 L927.03,463.93 L928.52,463.79 L930.02,463.65 L931.51,463.52 L933.01,463.38 L934.50,463.24 L936.00,463.11 L937.49,462.98 L938.99,462.85 L940.49,462.72 L941.98,462.59 L943.48,462.46 L944.98,462.34 L946.47,462.21 L947.97,462.09 L949.47,461.97 L950.96,461.85 L952.46,461.73 L953.96,461.61 L955.46,461.49 L956.96,461.37 L958.45,461.26 L959.95,461.15 L961.45,461.03 L962.95,460.92 L964.45,460.81 L965.95,460.70 L967.44,460.59 L968.94,460.48 L970.44,460.38 L971.94,460.27 L973.44,460.17 L974.94,460.06 L976.44,459.96 L977.94,459.86 L979.44,459.76 L980.94,459.66 L982.44,459.56 L983.94,459.46 L985.44,459.37 L986.94,459.27 L988.44,459.18 L989.94,459.08 L991.44,458.99 L992.94,458.90 L994.44,458.80 L995.94,458.71 L997.44,458.62 L998.94,458.53 L1000.44,458.45 L1001.94,458.36 L1003.44,458.27 L1004.94,458.19 L1006.44,458.10 L1007.94,458.02 L1009.44,457.93 L1010.94,457.85 L1012.44,457.77 L1013.94,457.68 L1015.44,457.60 L1016.94,457.52 L1018.44,457.44 L1019.94,457.36 L1021.44,457.29 L1022.95,457.21 L1024.45,457.13 L1025.95,457.05 L1027.45,456.98 L1028.95,456.90 L1030.45,456.83 L1031.95,456.75 L1033.45,456.68 L1034.95,456.61 L1036.45,456.53 L1037.95,456.46 L1039.45,456.39 L1040.95,456.32 L1042.45,456.25 L1043.95,456.18 L1045.45,456.11 L1046.95,456.04 L1048.45,455.98 L1049.95,455.91 L1051.45,455.84 L1052.95,455.78 L1054.45,455.71 L1055.95,455.65 L1057.45,455.58 L1058.95,455.52 L1060.45,455.46 L1061.94,455.39 L1063.44,455.33 L1064.94,455.27 L1066.44,455.21 L1067.94,455.15 L1069.44,455.09 L1070.94,455.03 L1072.44,454.97 L1073.94,454.91 L1075.44,454.85 L1076.94,454.80 L1078.44,454.74 L1079.94,454.69 L1081.44,454.63 L1082.94,454.58 L1084.44,454.52 L1085.94,454.47 L1087.44,454.41 L1088.94,454.36 L1090.44,454.31 L1091.93,454.26 L1093.43,454.21 L1094.93,454.15 L1096.43,454.10 L1097.93,454.05 L1099.43,454.01 L1100.93,453.96 L1102.43,453.91 L1103.93,453.86 L1105.43,453.81 L1106.93,453.77 L1108.43,453.72 L1109.93,453.68 L1111.42,453.63 L1112.92,453.59 L1114.42,453.54 L1115.92,453.50 L1117.42,453.45 L1118.92,453.41 L1120.42,453.37 L1121.92,453.33 L1123.42,453.29 L1124.92,453.24 L1126.41,453.20 L1127.91,453.16 L1129.41,453.12 L1130.91,453.09 L1132.41,453.05 L1133.91,453.01 L1135.41,452.97 L1136.91,452.93 L1138.41,452.90 L1139.90,452.86 L1141.40,452.82 L1142.90,452.79 L1144.40,452.75 L1145.90,452.72 L1147.40,452.69 L1148.90,452.65 L1150.40,452.62 L1151.89,452.59 L1153.39,452.55 L1154.89,452.52 L1156.39,452.49 L1157.89,452.46 L1159.39,452.43 L1160.89,452.40 L1162.38,452.37 L1163.88,452.34 L1165.38,452.31 L1166.88,452.28 L1168.38,452.25 L1169.88,452.22 L1171.38,452.20 L1172.87,452.17 L1174.37,452.14 L1175.87,452.12 L1177.37,452.09 L1178.87,452.06 L1180.37,452.04 L1181.87,452.01 L1183.36,451.99 L1184.86,451.97 L1186.36,451.94 L1187.86,451.92 L1189.36,451.90 L1190.86,451.87 L1192.35,451.85 L1193.85,451.83 L1195.35,451.81 L1196.85,451.79 L1198.35,451.77 L1199.85,451.75 L1201.34,451.73 L1202.84,451.71 L1204.34,451.69 L1205.84,451.67 L1207.34,451.65 L1208.84,451.63 L1210.33,451.61 L1211.83,451.60 L1213.33,451.58 L1214.83,451.56 L1216.33,451.55 L1217.82,451.53 L1219.32,451.51 L1220.82,451.50 L1222.32,451.48 L1223.82,451.47 L1225.32,451.45 L1226.81,451.44 L1228.31,451.42 L1229.81,451.41 L1231.31,451.40 L1232.81,451.38 L1234.30,451.37 L1235.80,451.36 L1237.30,451.35 L1238.80,451.34 L1240.30,451.32 L1241.79,451.31 L1243.29,451.30 L1244.79,451.29 L1246.29,451.28 L1247.79,451.27 L1249.29,451.26 L1250.78,451.25 L1252.28,451.24 L1253.78,451.23 L1255.28,451.22 L1256.78,451.22 L1258.27,451.21 L1259.77,451.20 L1261.27,451.19 L1262.77,451.18 L1264.27,451.18 L1265.76,451.17 L1267.26,451.16 L1268.76,451.16 L1270.26,451.15 L1271.76,451.15 L1273.25,451.14 L1274.75,451.14 L1276.25,451.13 L1277.75,451.13 L1279.25,451.12 L1280.74,451.12 L1282.24,451.11 L1283.74,451.11 L1285.24,451.10 L1286.74,451.10 L1288.23,451.10 L1289.73,451.09 L1291.23,451.09 L1292.73,451.09 L1294.23,451.09 L1295.72,451.09 L1297.22,451.08 L1298.72,451.08 L1300.22,451.08 L1301.72,451.08 L1303.21,451.08 L1304.71,451.08 L1306.21,451.08 L1307.71,451.08 L1309.20,451.08 L1310.70,451.08 L1312.20,451.08 L1313.70,451.08 L1315.20,451.08 L1316.69,451.08 L1318.19,451.08 L1319.69,451.08 L1321.19,451.08 L1322.69,451.08 L1324.18,451.08 L1325.68,451.08 L1327.18,451.09 L1328.68,451.09 L1330.18,451.09 L1331.67,451.09 L1333.17,451.09 L1334.67,451.10 L1336.17,451.10 L1337.67,451.10 L1339.16,451.11 L1340.66,451.11 L1342.16,451.11 L1343.66,451.12 L1345.16,451.12 L1346.65,451.12 L1348.15,451.13 L1349.65,451.13 L1351.15,451.14 L1352.65,451.14 L1354.14,451.15 L1355.64,451.15 L1357.14,451.15 L1358.64,451.16 L1360.14,451.16 L1361.63,451.17 L1363.13,451.17 L1364.63,451.18 L1366.13,451.19 L1367.63,451.19 L1369.12,451.20 L1370.62,451.20 L1372.12,451.21 L1373.62,451.21 L1375.12,451.22 L1376.61,451.23 L1378.11,451.23 L1379.61,451.24 L1381.11,451.24 L1382.61,451.25 L1384.10,451.26 L1385.60,451.26 L1387.10,451.27 L1388.60,451.28 L1390.10,451.28 L1391.59,451.29 L1393.09,451.30 L1394.59,451.31 L1396.09,451.31 L1397.59,451.32 L1399.09,451.33 L1400.58,451.33 L1402.08,451.34 L1403.58,451.35 L1405.08,451.36 L1406.58,451.36 L1408.07,451.37 L1409.57,451.38 L1411.07,451.39 L1412.57,451.39 L1414.07,451.40 L1415.56,451.41 L1417.06,451.42 L1418.56,451.43 L1420.06,451.43 L1421.56,451.44 L1423.06,451.45 L1424.55,451.46 L1426.05,451.47 L1427.55,451.47 L1429.05,451.48 L1430.55,451.49 L1432.05,451.50 L1433.54,451.51 L1435.04,451.51 L1436.54,451.52 L1438.04,451.53 L1439.54,451.54 L1441.04,451.55 L1442.53,451.55 L1444.03,451.56 L1445.53,451.57 L1447.03,451.58 L1448.53,451.59 L1450.03,451.59 L1451.52,451.60 L1453.02,451.61 L1454.52,451.62 L1456.02,451.62 L1457.52,451.63 L1459.02,451.64 L1460.52,451.65 L1462.01,451.66 L1463.51,451.66 L1465.01,451.67 L1466.51,451.68 L1468.01,451.69 L1469.51,451.69 L1471.01,451.70 L1472.50,451.71 L1474.00,451.72 L1475.50,451.72 L1477.00,451.73 L1478.50,451.74 L1480.00,451.75 L1481.50,451.75 L1482.99,451.76 L1484.49,451.77 L1485.99,451.77 L1487.49,451.78 L1488.99,451.79 L1490.49,451.79 L1491.99,451.80 L1493.49,451.81 L1494.98,451.81 L1496.48,451.82 L1497.98,451.83 L1499.48,451.83 L1500.98,451.84 L1502.48,451.84 L1503.98,451.85 L1505.48,451.86 L1506.98,451.86 L1508.47,451.87 L1509.97,451.87 L1511.47,451.88 L1512.97,451.88 L1514.47,451.89 L1515.97,451.89 L1517.47,451.90 L1518.97,451.90 L1520.47,451.91 L1521.97,451.91 L1523.47,451.92 L1524.96,451.92 L1526.46,451.92 L1527.96,451.93 L1529.46,451.93 L1530.96,451.94 L1532.46,451.94 L1533.96,451.94 L1535.46,451.95 L1536.96,451.95 L1538.46,451.95 L1539.96,451.96 L1541.46,451.96 L1542.96,451.96 L1544.45,451.96 L1545.95,451.97 L1547.45,451.97 L1548.95,451.97 L1550.45,451.97 L1551.95,451.97 L1553.45,451.97 L1554.95,451.98 L1556.45,451.98 L1557.95,451.98 L1559.45,451.98 L1560.95,451.98 L1562.45,451.98 L1563.95,451.98 L1565.45,451.98 L1566.95,451.98 L1568.45,451.98 L1569.95,451.98 L1571.45,451.98 L1572.95,451.98 L1574.45,451.97 L1575.95,451.97 L1577.45,451.97 L1578.95,451.97 L1580.45,451.97 L1581.94,451.97 L1583.44,451.96 L1584.94,451.96 L1586.44,451.96 L1587.94,451.95 L1589.44,451.95 L1590.94,451.95 L1592.44,451.94 L1593.94,451.94 L1595.44,451.94 L1596.94,451.93 L1598.44,451.93 L1599.95,451.92 L1601.45,451.92 L1602.95,451.91 L1604.45,451.91 L1605.95,451.90 L1607.45,451.89 L1608.95,451.89 L1610.45,451.88 L1611.95,451.87 L1613.45,451.87 L1614.95,451.86 L1616.45,451.85 L1617.95,451.84 L1619.45,451.83 L1620.95,451.83 L1622.45,451.82 L1623.95,451.81 L1625.45,451.80 L1626.95,451.79 L1628.45,451.78 L1629.95,451.77 L1631.45,451.76 L1632.95,451.75 L1634.45,451.74 L1635.96,451.72 L1637.46,451.71 L1638.96,451.70 L1640.46,451.69 L1641.96,451.68 L1643.46,451.66 L1644.96,451.65 L1646.46,451.64 L1647.96,451.62 L1649.46,451.61 L1650.96,451.59 L1652.47,451.58 L1653.97,451.56 L1655.47,451.55 L1656.97,451.53 L1658.47,451.52 L1659.97,451.50 L1661.47,451.48 L1662.97,451.47 L1664.47,451.45 L1665.98,451.43 L1667.48,451.41 L1668.98,451.39 L1670.48,451.38 L1671.98,451.36 L1673.48,451.34 L1674.98,451.32 L1676.49,451.30 L1677.99,451.28 L1679.49,451.26 L1680.99,451.23 L1682.49,451.21 L1683.99,451.19 L1685.49,451.17 L1687.00,451.15 L1688.50,451.12 L1690.00,451.10" stroke="#F14040"/>
<path d="M151.50,449.50 L152.84,448.77 L154.15,448.01 L155.43,447.21 L156.68,446.39 L157.91,445.55 L159.10,444.68 L160.27,443.78 L161.42,442.86 L162.54,441.91 L163.63,440.94 L164.70,439.95 L165.75,438.93 L166.78,437.89 L167.79,436.84 L168.77,435.76 L169.74,434.66 L170.68,433.55 L171.61,432.42 L172.52,431.27 L173.41,430.10 L174.29,428.92 L175.15,427.73 L176.00,426.51 L176.83,425.29 L177.65,424.05 L178.45,422.81 L179.25,421.55 L180.03,420.27 L180.80,418.99 L181.57,417.70 L182.32,416.41 L183.07,415.10 L183.80,413.79 L184.54,412.46 L185.26,411.14 L185.98,409.81 L186.70,408.47 L187.41,407.13 L188.12,405.79 L188.82,404.45 L189.52,403.10 L190.23,401.76 L190.93,400.41 L191.63,399.06 L192.33,397.71 L193.02,396.36 L193.72,395.01 L194.41,393.66 L195.11,392.31 L195.80,390.96 L196.49,389.60 L197.18,388.25 L197.88,386.90 L198.57,385.55 L199.26,384.20 L199.95,382.84 L200.64,381.49 L201.33,380.14 L202.02,378.80 L202.70,377.45 L203.39,376.10 L204.08,374.75 L204.77,373.41 L205.46,372.07 L206.15,370.72 L206.85,369.38 L207.54,368.05 L208.23,366.71 L208.92,365.37 L209.62,364.04 L210.31,362.71 L211.01,361.38 L211.71,360.06 L212.40,358.74 L213.10,357.42 L213.81,356.10 L214.51,354.78 L215.21,353.47 L215.92,352.16 L216.63,350.86 L217.33,349.56 L218.05,348.26 L218.76,346.97 L219.47,345.68 L220.19,344.39 L220.91,343.11 L221.63,341.83 L222.36,340.56 L223.08,339.28 L223.81,338.02 L224.55,336.75 L225.28,335.49 L226.02,334.24 L226.76,332.98 L227.51,331.73 L228.26,330.48 L229.01,329.24 L229.77,327.99 L230.53,326.75 L231.30,325.51 L232.07,324.27 L232.84,323.04 L233.63,321.80 L234.41,320.57 L235.20,319.34 L236.00,318.10 L236.80,316.87 L237.61,315.64 L238.42,314.41 L239.24,313.18 L240.06,311.95 L240.90,310.72 L241.73,309.49 L242.58,308.26 L243.43,307.03 L244.29,305.80 L245.15,304.57 L246.03,303.33 L246.91,302.10 L247.79,300.86 L248.69,299.62 L249.59,298.38 L250.50,297.14 L251.42,295.90 L252.35,294.65 L253.29,293.41 L254.23,292.16 L255.19,290.92 L256.15,289.68 L257.12,288.44 L258.10,287.20 L259.09,285.97 L260.08,284.75 L261.09,283.53 L262.11,282.32 L263.13,281.12 L264.16,279.93 L265.21,278.75 L266.26,277.58 L267.32,276.42 L268.40,275.27 L269.48,274.14 L270.57,273.02 L271.67,271.92 L272.78,270.83 L273.90,269.77 L275.03,268.71 L276.18,267.68 L277.33,266.67 L278.49,265.68 L279.66,264.70 L280.85,263.76 L282.04,262.83 L283.24,261.93 L284.46,261.05 L285.69,260.20 L286.92,259.37 L288.17,258.57 L289.43,257.80 L290.70,257.05 L291.98,256.33 L293.26,255.63 L294.56,254.96 L295.87,254.31 L297.18,253.68 L298.51,253.08 L299.84,252.51 L301.18,251.95 L302.53,251.42 L303.88,250.92 L305.25,250.44 L306.62,249.98 L308.00,249.54 L309.39,249.12 L310.78,248.73 L312.18,248.36 L313.58,248.01 L315.00,247.68 L316.41,247.38 L317.84,247.09 L319.26,246.83 L320.70,246.58 L322.14,246.36 L323.58,246.16 L325.03,245.98 L326.48,245.81 L327.94,245.67 L329.40,245.55 L330.86,245.45 L332.33,245.36 L333.80,245.29 L335.27,245.25 L336.75,245.22 L338.23,245.21 L339.71,245.22 L341.19,245.24 L342.67,245.28 L344.16,245.34 L345.65,245.42 L347.14,245.52 L348.63,245.63 L350.12,245.75 L351.61,245.90 L353.10,246.06 L354.59,246.23 L356.08,246.43 L357.57,246.63 L359.06,246.86 L360.55,247.09 L362.04,247.35 L363.52,247.61 L365.01,247.89 L366.49,248.19 L367.97,248.50 L369.45,248.82 L370.93,249.16 L372.40,249.51 L373.87,249.87 L375.34,250.25 L376.80,250.64 L378.27,251.04 L379.72,251.46 L381.18,251.88 L382.62,252.32 L384.07,252.77 L385.51,253.23 L386.94,253.71 L388.37,254.19 L389.80,254.68 L391.22,255.19 L392.63,255.70 L394.04,256.23 L395.45,256.77 L396.85,257.31 L398.24,257.87 L399.63,258.43 L401.02,259.01 L402.40,259.59 L403.78,260.18 L405.15,260.79 L406.52,261.40 L407.88,262.01 L409.24,262.64 L410.60,263.27 L411.95,263.92 L413.30,264.57 L414.65,265.22 L415.99,265.89 L417.33,266.56 L418.67,267.24 L420.00,267.92 L421.33,268.61 L422.66,269.31 L423.98,270.01 L425.30,270.72 L426.62,271.43 L427.94,272.15 L429.25,272.88 L430.56,273.61 L431.87,274.34 L433.17,275.08 L434.48,275.83 L435.78,276.57 L437.08,277.33 L438.38,278.08 L439.67,278.84 L440.97,279.61 L442.26,280.37 L443.55,281.14 L444.84,281.91 L446.13,282.69 L447.41,283.47 L448.70,284.25 L449.98,285.03 L451.27,285.81 L452.55,286.60 L453.83,287.38 L455.11,288.17 L456.40,288.96 L457.68,289.75 L458.96,290.54 L460.23,291.34 L461.51,292.13 L462.79,292.92 L464.07,293.71 L465.35,294.50 L466.63,295.30 L467.91,296.09 L469.19,296.88 L470.47,297.67 L471.75,298.45 L473.03,299.24 L474.31,300.03 L475.60,300.81 L476.88,301.59 L478.16,302.37 L479.45,303.15 L480.74,303.92 L482.02,304.70 L483.31,305.47 L484.60,306.24 L485.89,307.00 L487.18,307.77 L488.47,308.53 L489.76,309.30 L491.05,310.06 L492.35,310.81 L493.64,311.57 L494.94,312.32 L496.24,313.08 L497.53,313.83 L498.83,314.58 L500.13,315.32 L501.43,316.07 L502.73,316.81 L504.03,317.55 L505.34,318.29 L506.64,319.03 L507.94,319.76 L509.25,320.49 L510.56,321.22 L511.86,321.95 L513.17,322.68 L514.48,323.41 L515.79,324.13 L517.10,324.85 L518.41,325.57 L519.73,326.29 L521.04,327.00 L522.36,327.71 L523.67,328.43 L524.99,329.14 L526.31,329.84 L527.63,330.55 L528.94,331.25 L530.27,331.95 L531.59,332.65 L532.91,333.35 L534.23,334.05 L535.56,334.74 L536.88,335.43 L538.21,336.12 L539.54,336.81 L540.87,337.49 L542.20,338.18 L543.53,338.86 L544.86,339.54 L546.19,340.22 L547.52,340.89 L548.86,341.56 L550.20,342.24 L551.53,342.91 L552.87,343.57 L554.21,344.24 L555.55,344.90 L556.89,345.56 L558.23,346.22 L559.57,346.88 L560.92,347.54 L562.26,348.19 L563.61,348.84 L564.96,349.49 L566.30,350.14 L567.65,350.78 L569.00,351.43 L570.36,352.07 L571.71,352.71 L573.06,353.34 L574.42,353.98 L575.77,354.61 L577.13,355.24 L578.49,355.87 L579.85,356.50 L581.21,357.12 L582.57,357.75 L583.93,358.37 L585.29,358.99 L586.66,359.60 L588.02,360.22 L589.39,360.83 L590.76,361.44 L592.13,362.05 L593.50,362.66 L594.87,363.26 L596.24,363.86 L597.61,364.46 L598.99,365.06 L600.36,365.65 L601.74,366.25 L603.12,366.84 L604.49,367.43 L605.87,368.02 L607.25,368.60 L608.63,369.18 L610.02,369.76 L611.40,370.34 L612.78,370.92 L614.17,371.49 L615.56,372.06 L616.94,372.63 L618.33,373.20 L619.72,373.77 L621.11,374.33 L622.50,374.89 L623.89,375.45 L625.28,376.00 L626.68,376.56 L628.07,377.11 L629.47,377.66 L630.87,378.20 L632.26,378.75 L633.66,379.29 L635.06,379.83 L636.46,380.37 L637.86,380.91 L639.26,381.44 L640.67,381.97 L642.07,382.50 L643.47,383.02 L644.88,383.55 L646.29,384.07 L647.69,384.59 L649.10,385.11 L650.51,385.62 L651.92,386.13 L653.33,386.64 L654.74,387.15 L656.15,387.65 L657.57,388.16 L658.98,388.66 L660.40,389.16 L661.81,389.65 L663.23,390.14 L664.65,390.63 L666.06,391.12 L667.48,391.61 L668.90,392.09 L670.32,392.57 L671.74,393.05 L673.16,393.52 L674.59,394.00 L676.01,394.47 L677.43,394.94 L678.86,395.40 L680.28,395.87 L681.71,396.33 L683.14,396.79 L684.57,397.24 L685.99,397.69 L687.42,398.14 L688.85,398.59 L690.28,399.04 L691.72,399.48 L693.15,399.92 L694.58,400.36 L696.01,400.80 L697.45,401.23 L698.88,401.66 L700.32,402.09 L701.76,402.51 L703.19,402.93 L704.63,403.35 L706.07,403.77 L707.51,404.18 L708.95,404.60 L710.39,405.01 L711.83,405.41 L713.27,405.82 L714.71,406.22 L716.15,406.62 L717.60,407.01 L719.04,407.41 L720.49,407.80 L721.93,408.18 L723.38,408.57 L724.82,408.95 L726.27,409.33 L727.72,409.71 L729.17,410.08 L730.61,410.46 L732.06,410.82 L733.51,411.19 L734.96,411.55 L736.41,411.91 L737.87,412.27 L739.32,412.63 L740.77,412.98 L742.22,413.33 L743.68,413.68 L745.13,414.02 L746.59,414.37 L748.04,414.71 L749.50,415.04 L750.95,415.38 L752.41,415.71 L753.87,416.04 L755.33,416.37 L756.78,416.69 L758.24,417.01 L759.70,417.33 L761.16,417.65 L762.62,417.96 L764.08,418.28 L765.55,418.59 L767.01,418.89 L768.47,419.20 L769.93,419.50 L771.40,419.80 L772.86,420.10 L774.33,420.39 L775.79,420.68 L777.26,420.97 L778.72,421.26 L780.19,421.55 L781.65,421.83 L783.12,422.11 L784.59,422.39 L786.06,422.67 L787.53,422.94 L789.00,423.21 L790.46,423.48 L791.93,423.75 L793.41,424.01 L794.88,424.28 L796.35,424.54 L797.82,424.80 L799.29,425.05 L800.76,425.31 L802.24,425.56 L803.71,425.81 L805.18,426.06 L806.66,426.30 L808.13,426.54 L809.61,426.79 L811.08,427.02 L812.56,427.26 L814.04,427.50 L815.51,427.73 L816.99,427.96 L818.47,428.19 L819.94,428.42 L821.42,428.64 L822.90,428.86 L824.38,429.08 L825.86,429.30 L827.34,429.52 L828.82,429.73 L830.30,429.95 L831.78,430.16 L833.26,430.37 L834.74,430.57 L836.22,430.78 L837.71,430.98 L839.19,431.18 L840.67,431.38 L842.16,431.58 L843.64,431.78 L845.12,431.97 L846.61,432.16 L848.09,432.35 L849.58,432.54 L851.06,432.73 L852.55,432.92 L854.03,433.10 L855.52,433.28 L857.01,433.46 L858.49,433.64 L859.98,433.81 L861.47,433.99 L862.95,434.16 L864.44,434.33 L865.93,434.50 L867.42,434.67 L868.91,434.84 L870.40,435.00 L871.89,435.17 L873.38,435.33 L874.87,435.49 L876.36,435.65 L877.85,435.80 L879.34,435.96 L880.83,436.11 L882.32,436.26 L883.81,436.41 L885.30,436.56 L886.79,436.71 L888.29,436.86 L889.78,437.00 L891.27,437.14 L892.76,437.29 L894.26,437.43 L895.75,437.56 L897.24,437.70 L898.74,437.84 L900.23,437.97 L901.73,438.11 L903.22,438.24 L904.72,438.37 L906.21,438.50 L907.71,438.62 L909.20,438.75 L910.70,438.88 L912.19,439.00 L913.69,439.12 L915.18,439.24 L916.68,439.36 L918.18,439.48 L919.67,439.60 L921.17,439.72 L922.67,439.83 L924.16,439.94 L925.66,440.06 L927.16,440.17 L928.66,440.28 L930.15,440.39 L931.65,440.50 L933.15,440.60 L934.65,440.71 L936.15,440.81 L937.64,440.92 L939.14,441.02 L940.64,441.12 L942.14,441.22 L943.64,441.32 L945.14,441.42 L946.64,441.51 L948.14,441.61 L949.64,441.70 L951.14,441.80 L952.64,441.89 L954.14,441.98 L955.64,442.07 L957.14,442.16 L958.64,442.25 L960.14,442.34 L961.64,442.43 L963.14,442.51 L964.64,442.60 L966.14,442.68 L967.64,442.77 L969.14,442.85 L970.64,442.93 L972.14,443.01 L973.64,443.09 L975.14,443.17 L976.65,443.25 L978.15,443.33 L979.65,443.41 L981.15,443.48 L982.65,443.56 L984.15,443.63 L985.65,443.71 L987.16,443.78 L988.66,443.85 L990.16,443.92 L991.66,443.99 L993.16,444.07 L994.66,444.13 L996.16,444.20 L997.67,444.27 L999.17,444.34 L1000.67,444.41 L1002.17,444.47 L1003.67,444.54 L1005.17,444.61 L1006.68,444.67 L1008.18,444.73 L1009.68,444.80 L1011.18,444.86 L1012.68,444.92 L1014.19,444.99 L1015.69,445.05 L1017.19,445.11 L1018.69,445.17 L1020.19,445.23 L1021.69,445.29 L1023.19,445.35 L1024.70,445.41 L1026.20,445.47 L1027.70,445.52 L1029.20,445.58 L1030.70,445.64 L1032.20,445.70 L1033.70,445.75 L1035.21,445.81 L1036.71,445.86 L1038.21,445.92 L1039.71,445.98 L1041.21,446.03 L1042.71,446.08 L1044.21,446.14 L1045.71,446.19 L1047.21,446.24 L1048.71,446.30 L1050.21,446.35 L1051.72,446.40 L1053.22,446.45 L1054.72,446.50 L1056.22,446.55 L1057.72,446.60 L1059.22,446.65 L1060.72,446.70 L1062.22,446.75 L1063.72,446.80 L1065.22,446.85 L1066.72,446.90 L1068.22,446.95 L1069.72,447.00 L1071.22,447.04 L1072.72,447.09 L1074.22,447.14 L1075.72,447.18 L1077.22,447.23 L1078.72,447.27 L1080.22,447.32 L1081.72,447.36 L1083.22,447.41 L1084.72,447.45 L1086.22,447.49 L1087.72,447.54 L1089.22,447.58 L1090.72,447.62 L1092.22,447.67 L1093.72,447.71 L1095.22,447.75 L1096.72,447.79 L1098.22,447.83 L1099.71,447.87 L1101.21,447.91 L1102.71,447.95 L1104.21,447.99 L1105.71,448.03 L1107.21,448.07 L1108.71,448.11 L1110.21,448.15 L1111.71,448.19 L1113.21,448.22 L1114.71,448.26 L1116.21,448.30 L1117.70,448.34 L1119.20,448.37 L1120.70,448.41 L1122.20,448.44 L1123.70,448.48 L1125.20,448.51 L1126.70,448.55 L1128.20,448.58 L1129.69,448.62 L1131.19,448.65 L1132.69,448.69 L1134.19,448.72 L1135.69,448.75 L1137.19,448.78 L1138.69,448.82 L1140.18,448.85 L1141.68,448.88 L1143.18,448.91 L1144.68,448.94 L1146.18,448.98 L1147.68,449.01 L1149.17,449.04 L1150.67,449.07 L1152.17,449.10 L1153.67,449.13 L1155.17,449.15 L1156.67,449.18 L1158.16,449.21 L1159.66,449.24 L1161.16,449.27 L1162.66,449.30 L1164.16,449.32 L1165.65,449.35 L1167.15,449.38 L1168.65,449.41 L1170.15,449.43 L1171.65,449.46 L1173.14,449.48 L1174.64,449.51 L1176.14,449.54 L1177.64,449.56 L1179.13,449.58 L1180.63,449.61 L1182.13,449.63 L1183.63,449.66 L1185.12,449.68 L1186.62,449.71 L1188.12,449.73 L1189.62,449.75 L1191.12,449.77 L1192.61,449.80 L1194.11,449.82 L1195.61,449.84 L1197.11,449.86 L1198.60,449.88 L1200.10,449.91 L1201.60,449.93 L1203.09,449.95 L1204.59,449.97 L1206.09,449.99 L1207.59,450.01 L1209.08,450.03 L1210.58,450.05 L1212.08,450.07 L1213.58,450.09 L1215.07,450.11 L1216.57,450.12 L1218.07,450.14 L1219.56,450.16 L1221.06,450.18 L1222.56,450.20 L1224.06,450.21 L1225.55,450.23 L1227.05,450.25 L1228.55,450.26 L1230.04,450.28 L1231.54,450.30 L1233.04,450.31 L1234.54,450.33 L1236.03,450.35 L1237.53,450.36 L1239.03,450.38 L1240.52,450.39 L1242.02,450.41 L1243.52,450.42 L1245.01,450.44 L1246.51,450.45 L1248.01,450.46 L1249.50,450.48 L1251.00,450.49 L1252.50,450.50 L1254.00,450.52 L1255.49,450.53 L1256.99,450.54 L1258.49,450.56 L1259.98,450.57 L1261.48,450.58 L1262.98,450.59 L1264.47,450.61 L1265.97,450.62 L1267.47,450.63 L1268.96,450.64 L1270.46,450.65 L1271.96,450.66 L1273.45,450.67 L1274.95,450.68 L1276.45,450.69 L1277.94,450.70 L1279.44,450.71 L1280.94,450.72 L1282.43,450.73 L1283.93,450.74 L1285.43,450.75 L1286.92,450.76 L1288.42,450.77 L1289.92,450.78 L1291.41,450.79 L1292.91,450.80 L1294.40,450.80 L1295.90,450.81 L1297.40,450.82 L1298.89,450.83 L1300.39,450.84 L1301.89,450.84 L1303.38,450.85 L1304.88,450.86 L1306.38,450.86 L1307.87,450.87 L1309.37,450.88 L1310.87,450.88 L1312.36,450.89 L1313.86,450.90 L1315.36,450.90 L1316.85,450.91 L1318.35,450.91 L1319.85,450.92 L1321.34,450.93 L1322.84,450.93 L1324.34,450.94 L1325.83,450.94 L1327.33,450.95 L1328.82,450.95 L1330.32,450.96 L1331.82,450.96 L1333.31,450.96 L1334.81,450.97 L1336.31,450.97 L1337.80,450.98 L1339.30,450.98 L1340.80,450.98 L1342.29,450.99 L1343.79,450.99 L1345.29,451.00 L1346.78,451.00 L1348.28,451.00 L1349.78,451.00 L1351.27,451.01 L1352.77,451.01 L1354.26,451.01 L1355.76,451.02 L1357.26,451.02 L1358.75,451.02 L1360.25,451.02 L1361.75,451.02 L1363.24,451.03 L1364.74,451.03 L1366.24,451.03 L1367.73,451.03 L1369.23,451.03 L1370.73,451.03 L1372.22,451.04 L1373.72,451.04 L1375.22,451.04 L1376.71,451.04 L1378.21,451.04 L1379.71,451.04 L1381.20,451.04 L1382.70,451.04 L1384.20,451.04 L1385.69,451.04 L1387.19,451.04 L1388.69,451.04 L1390.18,451.05 L1391.68,451.05 L1393.18,451.05 L1394.67,451.05 L1396.17,451.05 L1397.67,451.05 L1399.16,451.04 L1400.66,451.04 L1402.16,451.04 L1403.65,451.04 L1405.15,451.04 L1406.65,451.04 L1408.14,451.04 L1409.64,451.04 L1411.14,451.04 L1412.63,451.04 L1414.13,451.04 L1415.63,451.04 L1417.12,451.04 L1418.62,451.04 L1420.12,451.03 L1421.61,451.03 L1423.11,451.03 L1424.61,451.03 L1426.10,451.03 L1427.60,451.03 L1429.10,451.03 L1430.60,451.02 L1432.09,451.02 L1433.59,451.02 L1435.09,451.02 L1436.58,451.02 L1438.08,451.02 L1439.58,451.01 L1441.07,451.01 L1442.57,451.01 L1444.07,451.01 L1445.57,451.01 L1447.06,451.00 L1448.56,451.00 L1450.06,451.00 L1451.55,451.00 L1453.05,451.00 L1454.55,450.99 L1456.05,450.99 L1457.54,450.99 L1459.04,450.99 L1460.54,450.98 L1462.04,450.98 L1463.53,450.98 L1465.03,450.98 L1466.53,450.97 L1468.02,450.97 L1469.52,450.97 L1471.02,450.97 L1472.52,450.96 L1474.01,450.96 L1475.51,450.96 L1477.01,450.96 L1478.51,450.95 L1480.00,450.95 L1481.50,450.95 L1483.00,450.95 L1484.50,450.94 L1486.00,450.94 L1487.49,450.94 L1488.99,450.94 L1490.49,450.93 L1491.99,450.93 L1493.48,450.93 L1494.98,450.93 L1496.48,450.92 L1497.98,450.92 L1499.48,450.92 L1500.97,450.92 L1502.47,450.91 L1503.97,450.91 L1505.47,450.91 L1506.97,450.91 L1508.46,450.90 L1509.96,450.90 L1511.46,450.90 L1512.96,450.90 L1514.46,450.89 L1515.95,450.89 L1517.45,450.89 L1518.95,450.89 L1520.45,450.88 L1521.95,450.88 L1523.45,450.88 L1524.94,450.88 L1526.44,450.88 L1527.94,450.87 L1529.44,450.87 L1530.94,450.87 L1532.44,450.87 L1533.93,450.86 L1535.43,450.86 L1536.93,450.86 L1538.43,450.86 L1539.93,450.86 L1541.43,450.86 L1542.93,450.85 L1544.43,450.85 L1545.92,450.85 L1547.42,450.85 L1548.92,450.85 L1550.42,450.85 L1551.92,450.84 L1553.42,450.84 L1554.92,450.84 L1556.42,450.84 L1557.92,450.84 L1559.42,450.84 L1560.91,450.84 L1562.41,450.83 L1563.91,450.83 L1565.41,450.83 L1566.91,450.83 L1568.41,450.83 L1569.91,450.83 L1571.41,450.83 L1572.91,450.83 L1574.41,450.83 L1575.91,450.83 L1577.41,450.83 L1578.91,450.83 L1580.41,450.83 L1581.91,450.83 L1583.41,450.83 L1584.91,450.83 L1586.41,450.83 L1587.91,450.83 L1589.41,450.83 L1590.91,450.83 L1592.41,450.83 L1593.91,450.83 L1595.41,450.83 L1596.91,450.83 L1598.41,450.83 L1599.91,450.83 L1601.41,450.83 L1602.91,450.83 L1604.41,450.83 L1605.91,450.84 L1607.41,450.84 L1608.91,450.84 L1610.41,450.84 L1611.91,450.84 L1613.41,450.84 L1614.91,450.85 L1616.41,450.85 L1617.91,450.85 L1619.41,450.85 L1620.91,450.85 L1622.41,450.86 L1623.91,450.86 L1625.41,450.86 L1626.92,450.86 L1628.42,450.87 L1629.92,450.87 L1631.42,450.87 L1632.92,450.88 L1634.42,450.88 L1635.92,450.88 L1637.42,450.89 L1638.93,450.89 L1640.43,450.89 L1641.93,450.90 L1643.43,450.90 L1644.93,450.91 L1646.43,450.91 L1647.93,450.91 L1649.44,450.92 L1650.94,450.92 L1652.44,450.93 L1653.94,450.93 L1655.44,450.94 L1656.94,450.94 L1658.45,450.95 L1659.95,450.96 L1661.45,450.96 L1662.95,450.97 L1664.46,450.97 L1665.96,450.98 L1667.46,450.99 L1668.96,450.99 L1670.46,451.00 L1671.97,451.01 L1673.47,451.01 L1674.97,451.02 L1676.47,451.03 L1677.98,451.03 L1679.48,451.04 L1680.98,451.05 L1682.49,451.06 L1683.99,451.07 L1685.49,451.07 L1686.99,451.08 L1688.50,451.09 L1690.00,451.10" stroke="#1A6FDF"/>
<path d="M151.50,449.50 L151.65,448.23 L151.84,446.91 L152.09,445.54 L152.38,444.13 L152.73,442.70 L153.11,441.23 L153.55,439.74 L154.03,438.24 L154.56,436.73 L155.13,435.21 L155.74,433.69 L156.40,432.18 L157.09,430.68 L157.83,429.20 L158.61,427.74 L159.42,426.31 L160.28,424.92 L161.17,423.56 L162.09,422.25 L163.06,421.00 L164.05,419.80 L165.08,418.66 L166.15,417.59 L167.25,416.59 L168.37,415.68 L169.53,414.85 L170.72,414.11 L171.94,413.46 L173.18,412.92 L174.46,412.49 L175.75,412.16 L177.07,411.94 L178.42,411.82 L179.77,411.79 L181.15,411.85 L182.53,411.99 L183.92,412.21 L185.32,412.51 L186.72,412.87 L188.12,413.30 L189.52,413.79 L190.91,414.33 L192.30,414.92 L193.67,415.56 L195.03,416.23 L196.37,416.93 L197.69,417.67 L198.99,418.43 L200.27,419.21 L201.53,420.02 L202.77,420.85 L203.99,421.71 L205.19,422.58 L206.38,423.48 L207.54,424.39 L208.69,425.33 L209.82,426.28 L210.94,427.26 L212.04,428.25 L213.13,429.25 L214.20,430.28 L215.26,431.32 L216.31,432.37 L217.34,433.44 L218.37,434.52 L219.38,435.62 L220.38,436.73 L221.37,437.85 L222.35,438.98 L223.33,440.12 L224.29,441.27 L225.25,442.43 L226.20,443.60 L227.15,444.77 L228.09,445.95 L229.02,447.14 L229.95,448.34 L230.88,449.54 L231.80,450.74 L232.72,451.95 L233.64,453.16 L234.56,454.38 L235.47,455.60 L236.39,456.81 L237.30,458.03 L238.22,459.25 L239.14,460.46 L240.06,461.68 L240.98,462.89 L241.90,464.10 L242.83,465.31 L243.76,466.51 L244.70,467.71 L245.65,468.90 L246.59,470.09 L247.55,471.27 L248.51,472.45 L249.48,473.61 L250.45,474.78 L251.43,475.93 L252.41,477.08 L253.41,478.22 L254.40,479.35 L255.41,480.48 L256.42,481.59 L257.45,482.70 L258.47,483.80 L259.51,484.89 L260.56,485.97 L261.61,487.04 L262.67,488.10 L263.74,489.15 L264.82,490.18 L265.91,491.21 L267.01,492.23 L268.11,493.23 L269.23,494.23 L270.35,495.21 L271.49,496.17 L272.64,497.13 L273.79,498.07 L274.96,499.00 L276.14,499.92 L277.33,500.82 L278.53,501.71 L279.74,502.58 L280.96,503.44 L282.19,504.28 L283.44,505.11 L284.69,505.92 L285.96,506.72 L287.25,507.50 L288.54,508.26 L289.85,509.01 L291.17,509.74 L292.50,510.45 L293.84,511.15 L295.19,511.83 L296.56,512.49 L297.93,513.13 L299.32,513.76 L300.71,514.37 L302.11,514.96 L303.52,515.53 L304.94,516.08 L306.37,516.62 L307.80,517.14 L309.24,517.64 L310.68,518.12 L312.13,518.58 L313.59,519.02 L315.05,519.45 L316.52,519.85 L317.99,520.24 L319.46,520.60 L320.93,520.95 L322.41,521.27 L323.89,521.58 L325.38,521.87 L326.86,522.14 L328.35,522.38 L329.83,522.61 L331.32,522.81 L332.80,523.00 L334.29,523.17 L335.77,523.31 L337.25,523.43 L338.73,523.53 L340.20,523.62 L341.68,523.68 L343.15,523.71 L344.61,523.73 L346.08,523.73 L347.54,523.70 L349.00,523.66 L350.45,523.60 L351.90,523.51 L353.35,523.41 L354.80,523.29 L356.24,523.15 L357.68,522.99 L359.12,522.81 L360.55,522.61 L361.98,522.40 L363.41,522.17 L364.83,521.92 L366.26,521.65 L367.68,521.37 L369.09,521.07 L370.51,520.75 L371.92,520.42 L373.33,520.07 L374.73,519.70 L376.13,519.32 L377.53,518.93 L378.93,518.52 L380.33,518.09 L381.72,517.65 L383.11,517.20 L384.49,516.73 L385.88,516.25 L387.26,515.75 L388.64,515.24 L390.02,514.72 L391.39,514.18 L392.76,513.64 L394.13,513.08 L395.50,512.50 L396.86,511.92 L398.22,511.33 L399.58,510.72 L400.94,510.10 L402.29,509.47 L403.64,508.83 L404.99,508.18 L406.34,507.52 L407.69,506.85 L409.03,506.17 L410.37,505.48 L411.71,504.79 L413.05,504.08 L414.38,503.36 L415.71,502.64 L417.04,501.91 L418.37,501.17 L419.69,500.42 L421.02,499.66 L422.34,498.90 L423.66,498.13 L424.97,497.36 L426.29,496.57 L427.60,495.79 L428.91,494.99 L430.22,494.19 L431.53,493.39 L432.83,492.57 L434.14,491.76 L435.44,490.94 L436.74,490.11 L438.03,489.28 L439.33,488.45 L440.62,487.61 L441.91,486.77 L443.20,485.93 L444.49,485.08 L445.78,484.23 L447.06,483.38 L448.35,482.52 L449.63,481.66 L450.91,480.81 L452.18,479.95 L453.46,479.08 L454.74,478.22 L456.01,477.36 L457.28,476.49 L458.55,475.63 L459.82,474.77 L461.08,473.90 L462.35,473.04 L463.61,472.17 L464.88,471.31 L466.14,470.44 L467.40,469.58 L468.65,468.72 L469.91,467.85 L471.17,466.99 L472.42,466.13 L473.67,465.26 L474.92,464.40 L476.18,463.54 L477.42,462.68 L478.67,461.82 L479.92,460.95 L481.17,460.09 L482.41,459.23 L483.66,458.37 L484.90,457.51 L486.14,456.65 L487.38,455.79 L488.62,454.94 L489.86,454.08 L491.10,453.22 L492.34,452.36 L493.58,451.51 L494.82,450.65 L496.05,449.80 L497.29,448.94 L498.52,448.09 L499.76,447.24 L500.99,446.38 L502.23,445.53 L503.46,444.68 L504.69,443.83 L505.92,442.98 L507.16,442.13 L508.39,441.28 L509.62,440.44 L510.85,439.59 L512.08,438.74 L513.31,437.90 L514.54,437.06 L515.77,436.21 L517.00,435.37 L518.23,434.53 L519.46,433.69 L520.69,432.85 L521.92,432.01 L523.15,431.18 L524.38,430.34 L525.61,429.51 L526.84,428.67 L528.07,427.84 L529.30,427.01 L530.53,426.18 L531.76,425.35 L532.99,424.52 L534.22,423.70 L535.46,422.87 L536.69,422.05 L537.92,421.22 L539.15,420.40 L540.39,419.58 L541.62,418.76 L542.86,417.95 L544.09,417.13 L545.33,416.31 L546.56,415.50 L547.80,414.69 L549.04,413.88 L550.28,413.07 L551.52,412.26 L552.76,411.46 L554.00,410.65 L555.24,409.85 L556.48,409.05 L557.73,408.25 L558.97,407.45 L560.22,406.65 L561.46,405.86 L562.71,405.07 L563.96,404.27 L565.21,403.48 L566.46,402.70 L567.71,401.91 L568.97,401.13 L570.22,400.34 L571.48,399.56 L572.73,398.78 L573.99,398.01 L575.25,397.23 L576.51,396.46 L577.78,395.69 L579.04,394.92 L580.31,394.15 L581.57,393.38 L582.84,392.62 L584.11,391.86 L585.38,391.10 L586.66,390.34 L587.93,389.59 L589.21,388.83 L590.49,388.08 L591.77,387.33 L593.05,386.59 L594.33,385.84 L595.62,385.10 L596.91,384.36 L598.20,383.62 L599.49,382.88 L600.78,382.15 L602.08,381.42 L603.38,380.69 L604.68,379.96 L605.98,379.24 L607.28,378.52 L608.59,377.80 L609.90,377.08 L611.21,376.37 L612.52,375.65 L613.84,374.94 L615.15,374.24 L616.47,373.53 L617.80,372.83 L619.12,372.13 L620.45,371.43 L621.78,370.74 L623.11,370.05 L624.45,369.36 L625.78,368.67 L627.12,367.99 L628.46,367.31 L629.81,366.63 L631.15,365.95 L632.50,365.28 L633.85,364.61 L635.20,363.95 L636.56,363.28 L637.92,362.62 L639.28,361.97 L640.64,361.31 L642.00,360.66 L643.37,360.02 L644.73,359.37 L646.10,358.73 L647.48,358.09 L648.85,357.46 L650.23,356.83 L651.60,356.20 L652.98,355.58 L654.37,354.96 L655.75,354.34 L657.13,353.73 L658.52,353.12 L659.91,352.52 L661.30,351.91 L662.70,351.32 L664.09,350.72 L665.49,350.13 L666.89,349.55 L668.29,348.96 L669.69,348.39 L671.09,347.81 L672.50,347.24 L673.90,346.67 L675.31,346.11 L676.72,345.56 L678.13,345.00 L679.55,344.45 L680.96,343.91 L682.38,343.37 L683.80,342.83 L685.22,342.30 L686.64,341.77 L688.06,341.25 L689.48,340.73 L690.91,340.21 L692.34,339.71 L693.76,339.20 L695.19,338.70 L696.62,338.21 L698.06,337.71 L699.49,337.23 L700.92,336.75 L702.36,336.27 L703.80,335.80 L705.24,335.33 L706.68,334.87 L708.12,334.42 L709.56,333.97 L711.00,333.52 L712.45,333.08 L713.89,332.64 L715.34,332.21 L716.79,331.79 L718.24,331.37 L719.69,330.95 L721.14,330.54 L722.59,330.14 L724.04,329.74 L725.50,329.35 L726.95,328.96 L728.41,328.58 L729.86,328.20 L731.32,327.83 L732.78,327.47 L734.24,327.11 L735.70,326.75 L737.16,326.40 L738.62,326.06 L740.09,325.72 L741.55,325.39 L743.01,325.07 L744.48,324.74 L745.94,324.43 L747.41,324.12 L748.88,323.81 L750.35,323.51 L751.81,323.22 L753.28,322.93 L754.76,322.65 L756.23,322.37 L757.70,322.09 L759.17,321.82 L760.64,321.56 L762.12,321.30 L763.59,321.05 L765.07,320.80 L766.54,320.56 L768.02,320.32 L769.50,320.08 L770.98,319.85 L772.45,319.63 L773.93,319.41 L775.41,319.20 L776.89,318.99 L778.37,318.78 L779.86,318.58 L781.34,318.38 L782.82,318.19 L784.30,318.01 L785.79,317.83 L787.27,317.65 L788.76,317.48 L790.24,317.31 L791.73,317.14 L793.21,316.98 L794.70,316.83 L796.19,316.68 L797.67,316.53 L799.16,316.39 L800.65,316.25 L802.14,316.12 L803.63,315.99 L805.12,315.86 L806.61,315.74 L808.10,315.63 L809.59,315.51 L811.08,315.41 L812.57,315.30 L814.07,315.20 L815.56,315.11 L817.05,315.01 L818.54,314.92 L820.04,314.84 L821.53,314.76 L823.02,314.68 L824.52,314.61 L826.01,314.54 L827.51,314.48 L829.00,314.41 L830.50,314.36 L831.99,314.30 L833.49,314.25 L834.99,314.20 L836.48,314.16 L837.98,314.12 L839.48,314.08 L840.97,314.05 L842.47,314.02 L843.97,314.00 L845.46,313.97 L846.96,313.96 L848.46,313.94 L849.96,313.93 L851.46,313.92 L852.95,313.91 L854.45,313.91 L855.95,313.91 L857.45,313.92 L858.95,313.92 L860.45,313.93 L861.94,313.95 L863.44,313.96 L864.94,313.98 L866.44,314.01 L867.94,314.03 L869.44,314.06 L870.94,314.09 L872.44,314.13 L873.93,314.16 L875.43,314.20 L876.93,314.25 L878.43,314.29 L879.93,314.34 L881.43,314.39 L882.93,314.45 L884.42,314.50 L885.92,314.56 L887.42,314.62 L888.92,314.69 L890.42,314.75 L891.91,314.82 L893.41,314.90 L894.91,314.97 L896.41,315.05 L897.90,315.13 L899.40,315.21 L900.90,315.29 L902.39,315.38 L903.89,315.47 L905.39,315.56 L906.88,315.65 L908.38,315.75 L909.87,315.85 L911.37,315.94 L912.86,316.05 L914.36,316.15 L915.85,316.26 L917.35,316.37 L918.84,316.48 L920.34,316.59 L921.83,316.70 L923.32,316.82 L924.82,316.94 L926.31,317.06 L927.80,317.18 L929.29,317.31 L930.79,317.43 L932.28,317.56 L933.77,317.69 L935.26,317.82 L936.75,317.96 L938.24,318.10 L939.73,318.23 L941.23,318.37 L942.72,318.52 L944.21,318.66 L945.70,318.81 L947.19,318.96 L948.68,319.10 L950.16,319.26 L951.65,319.41 L953.14,319.57 L954.63,319.72 L956.12,319.88 L957.61,320.04 L959.10,320.20 L960.58,320.37 L962.07,320.53 L963.56,320.70 L965.05,320.87 L966.53,321.04 L968.02,321.21 L969.51,321.39 L971.00,321.56 L972.48,321.74 L973.97,321.92 L975.45,322.10 L976.94,322.28 L978.43,322.47 L979.91,322.65 L981.40,322.84 L982.88,323.03 L984.37,323.22 L985.85,323.41 L987.34,323.61 L988.82,323.80 L990.30,324.00 L991.79,324.20 L993.27,324.40 L994.76,324.60 L996.24,324.80 L997.72,325.00 L999.21,325.21 L1000.69,325.41 L1002.17,325.62 L1003.66,325.83 L1005.14,326.04 L1006.62,326.25 L1008.10,326.47 L1009.58,326.68 L1011.07,326.90 L1012.55,327.12 L1014.03,327.33 L1015.51,327.56 L1016.99,327.78 L1018.47,328.00 L1019.96,328.22 L1021.44,328.45 L1022.92,328.67 L1024.40,328.90 L1025.88,329.13 L1027.36,329.36 L1028.84,329.59 L1030.32,329.82 L1031.80,330.06 L1033.28,330.29 L1034.76,330.53 L1036.24,330.76 L1037.72,331.00 L1039.20,331.24 L1040.68,331.48 L1042.16,331.72 L1043.64,331.96 L1045.12,332.21 L1046.59,332.45 L1048.07,332.70 L1049.55,332.94 L1051.03,333.19 L1052.51,333.44 L1053.99,333.69 L1055.46,333.94 L1056.94,334.19 L1058.42,334.44 L1059.90,334.70 L1061.38,334.95 L1062.85,335.20 L1064.33,335.46 L1065.81,335.72 L1067.29,335.97 L1068.76,336.23 L1070.24,336.49 L1071.72,336.75 L1073.19,337.01 L1074.67,337.27 L1076.15,337.53 L1077.62,337.80 L1079.10,338.06 L1080.58,338.33 L1082.05,338.59 L1083.53,338.86 L1085.01,339.12 L1086.48,339.39 L1087.96,339.66 L1089.44,339.93 L1090.91,340.20 L1092.39,340.47 L1093.86,340.74 L1095.34,341.01 L1096.81,341.28 L1098.29,341.55 L1099.77,341.83 L1101.24,342.10 L1102.72,342.37 L1104.19,342.65 L1105.67,342.92 L1107.14,343.20 L1108.62,343.48 L1110.09,343.75 L1111.57,344.03 L1113.04,344.31 L1114.52,344.59 L1115.99,344.86 L1117.47,345.14 L1118.94,345.42 L1120.42,345.70 L1121.89,345.98 L1123.37,346.26 L1124.84,346.54 L1126.32,346.83 L1127.79,347.11 L1129.27,347.39 L1130.74,347.67 L1132.21,347.95 L1133.69,348.24 L1135.16,348.52 L1136.64,348.80 L1138.11,349.09 L1139.59,349.37 L1141.06,349.66 L1142.53,349.94 L1144.01,350.23 L1145.48,350.51 L1146.96,350.79 L1148.43,351.08 L1149.91,351.37 L1151.38,351.65 L1152.85,351.94 L1154.33,352.22 L1155.80,352.51 L1157.28,352.79 L1158.75,353.08 L1160.22,353.37 L1161.70,353.65 L1163.17,353.94 L1164.65,354.23 L1166.12,354.51 L1167.59,354.80 L1169.07,355.08 L1170.54,355.37 L1172.02,355.66 L1173.49,355.94 L1174.97,356.23 L1176.44,356.51 L1177.91,356.80 L1179.39,357.09 L1180.86,357.37 L1182.34,357.66 L1183.81,357.94 L1185.28,358.23 L1186.76,358.51 L1188.23,358.80 L1189.71,359.08 L1191.18,359.37 L1192.66,359.65 L1194.13,359.94 L1195.60,360.22 L1197.08,360.51 L1198.55,360.79 L1200.03,361.07 L1201.50,361.36 L1202.98,361.64 L1204.45,361.92 L1205.93,362.20 L1207.40,362.49 L1208.87,362.77 L1210.35,363.05 L1211.82,363.33 L1213.30,363.61 L1214.77,363.89 L1216.25,364.17 L1217.72,364.45 L1219.20,364.73 L1220.67,365.01 L1222.15,365.28 L1223.62,365.56 L1225.10,365.84 L1226.57,366.11 L1228.05,366.39 L1229.52,366.67 L1231.00,366.94 L1232.47,367.21 L1233.95,367.49 L1235.43,367.76 L1236.90,368.03 L1238.38,368.31 L1239.85,368.58 L1241.33,368.85 L1242.80,369.12 L1244.28,369.39 L1245.76,369.66 L1247.23,369.93 L1248.71,370.19 L1250.19,370.46 L1251.66,370.73 L1253.14,370.99 L1254.61,371.26 L1256.09,371.52 L1257.57,371.79 L1259.04,372.05 L1260.52,372.32 L1262.00,372.58 L1263.47,372.84 L1264.95,373.10 L1266.43,373.36 L1267.91,373.62 L1269.38,373.88 L1270.86,374.14 L1272.34,374.40 L1273.82,374.66 L1275.29,374.91 L1276.77,375.17 L1278.25,375.43 L1279.73,375.68 L1281.20,375.94 L1282.68,376.19 L1284.16,376.44 L1285.64,376.70 L1287.11,376.95 L1288.59,377.20 L1290.07,377.45 L1291.55,377.70 L1293.03,377.95 L1294.51,378.20 L1295.98,378.45 L1297.46,378.70 L1298.94,378.95 L1300.42,379.20 L1301.90,379.44 L1303.38,379.69 L1304.86,379.93 L1306.34,380.18 L1307.81,380.42 L1309.29,380.67 L1310.77,380.91 L1312.25,381.15 L1313.73,381.39 L1315.21,381.64 L1316.69,381.88 L1318.17,382.12 L1319.65,382.36 L1321.13,382.60 L1322.61,382.84 L1324.09,383.07 L1325.57,383.31 L1327.05,383.55 L1328.53,383.78 L1330.01,384.02 L1331.49,384.26 L1332.97,384.49 L1334.45,384.72 L1335.93,384.96 L1337.41,385.19 L1338.89,385.42 L1340.37,385.66 L1341.85,385.89 L1343.33,386.12 L1344.81,386.35 L1346.29,386.58 L1347.77,386.81 L1349.25,387.04 L1350.73,387.26 L1352.22,387.49 L1353.70,387.72 L1355.18,387.94 L1356.66,388.17 L1358.14,388.40 L1359.62,388.62 L1361.10,388.84 L1362.59,389.07 L1364.07,389.29 L1365.55,389.51 L1367.03,389.74 L1368.51,389.96 L1369.99,390.18 L1371.48,390.40 L1372.96,390.62 L1374.44,390.84 L1375.92,391.06 L1377.40,391.27 L1378.89,391.49 L1380.37,391.71 L1381.85,391.93 L1383.33,392.14 L1384.82,392.36 L1386.30,392.57 L1387.78,392.79 L1389.26,393.00 L1390.75,393.21 L1392.23,393.43 L1393.71,393.64 L1395.20,393.85 L1396.68,394.06 L1398.16,394.27 L1399.65,394.48 L1401.13,394.69 L1402.61,394.90 L1404.10,395.11 L1405.58,395.32 L1407.06,395.53 L1408.55,395.73 L1410.03,395.94 L1411.52,396.15 L1413.00,396.35 L1414.48,396.56 L1415.97,396.76 L1417.45,396.97 L1418.94,397.17 L1420.42,397.37 L1421.90,397.57 L1423.39,397.78 L1424.87,397.98 L1426.36,398.18 L1427.84,398.38 L1429.33,398.58 L1430.81,398.78 L1432.30,398.98 L1433.78,399.18 L1435.27,399.37 L1436.75,399.57 L1438.24,399.77 L1439.72,399.96 L1441.21,400.16 L1442.69,400.35 L1444.18,400.55 L1445.66,400.74 L1447.15,400.94 L1448.63,401.13 L1450.12,401.32 L1451.60,401.52 L1453.09,401.71 L1454.58,401.90 L1456.06,402.09 L1457.55,402.28 L1459.03,402.47 L1460.52,402.66 L1462.01,402.85 L1463.49,403.04 L1464.98,403.22 L1466.47,403.41 L1467.95,403.60 L1469.44,403.78 L1470.92,403.97 L1472.41,404.15 L1473.90,404.34 L1475.39,404.52 L1476.87,404.71 L1478.36,404.89 L1479.85,405.07 L1481.33,405.26 L1482.82,405.44 L1484.31,405.62 L1485.79,405.80 L1487.28,405.98 L1488.77,406.16 L1490.26,406.34 L1491.74,406.52 L1493.23,406.70 L1494.72,406.87 L1496.21,407.05 L1497.70,407.23 L1499.18,407.40 L1500.67,407.58 L1502.16,407.76 L1503.65,407.93 L1505.14,408.11 L1506.62,408.28 L1508.11,408.45 L1509.60,408.63 L1511.09,408.80 L1512.58,408.97 L1514.07,409.14 L1515.55,409.32 L1517.04,409.49 L1518.53,409.66 L1520.02,409.83 L1521.51,410.00 L1523.00,410.16 L1524.49,410.33 L1525.98,410.50 L1527.47,410.67 L1528.96,410.84 L1530.45,411.00 L1531.93,411.17 L1533.42,411.33 L1534.91,411.50 L1536.40,411.66 L1537.89,411.83 L1539.38,411.99 L1540.87,412.16 L1542.36,412.32 L1543.85,412.48 L1545.34,412.64 L1546.83,412.80 L1548.32,412.97 L1549.81,413.13 L1551.30,413.29 L1552.79,413.45 L1554.28,413.61 L1555.77,413.76 L1557.26,413.92 L1558.76,414.08 L1560.25,414.24 L1561.74,414.39 L1563.23,414.55 L1564.72,414.71 L1566.21,414.86 L1567.70,415.02 L1569.19,415.17 L1570.68,415.33 L1572.17,415.48 L1573.67,415.63 L1575.16,415.79 L1576.65,415.94 L1578.14,416.09 L1579.63,416.24 L1581.12,416.40 L1582.62,416.55 L1584.11,416.70 L1585.60,416.85 L1587.09,417.00 L1588.58,417.15 L1590.07,417.29 L1591.57,417.44 L1593.06,417.59 L1594.55,417.74 L1596.04,417.88 L1597.54,418.03 L1599.03,418.18 L1600.52,418.32 L1602.01,418.47 L1603.51,418.61 L1605.00,418.76 L1606.49,418.90 L1607.99,419.04 L1609.48,419.19 L1610.97,419.33 L1612.46,419.47 L1613.96,419.61 L1615.45,419.75 L1616.94,419.90 L1618.44,420.04 L1619.93,420.18 L1621.42,420.32 L1622.92,420.46 L1624.41,420.59 L1625.91,420.73 L1627.40,420.87 L1628.89,421.01 L1630.39,421.15 L1631.88,421.28 L1633.38,421.42 L1634.87,421.55 L1636.36,421.69 L1637.86,421.82 L1639.35,421.96 L1640.85,422.09 L1642.34,422.23 L1643.84,422.36 L1645.33,422.49 L1646.82,422.63 L1648.32,422.76 L1649.81,422.89 L1651.31,423.02 L1652.80,423.15 L1654.30,423.28 L1655.79,423.41 L1657.29,423.54 L1658.78,423.67 L1660.28,423.80 L1661.78,423.93 L1663.27,424.06 L1664.77,424.19 L1666.26,424.31 L1667.76,424.44 L1669.25,424.57 L1670.75,424.69 L1672.24,424.82 L1673.74,424.95 L1675.24,425.07 L1676.73,425.20 L1678.23,425.32 L1679.72,425.44 L1681.22,425.57 L1682.72,425.69 L1684.21,425.81 L1685.71,425.94 L1687.21,426.06 L1688.70,426.18 L1690.20,426.30" stroke="#37AD6B"/>
<path d="M151.50,449.50 L152.96,449.16 L154.41,448.78 L155.85,448.38 L157.27,447.95 L158.69,447.50 L160.09,447.03 L161.49,446.52 L162.87,446.00 L164.24,445.45 L165.61,444.88 L166.96,444.29 L168.31,443.67 L169.64,443.04 L170.97,442.39 L172.29,441.72 L173.60,441.03 L174.91,440.32 L176.21,439.59 L177.50,438.85 L178.78,438.10 L180.06,437.33 L181.34,436.55 L182.61,435.75 L183.87,434.94 L185.13,434.12 L186.38,433.29 L187.63,432.44 L188.87,431.59 L190.11,430.73 L191.35,429.86 L192.59,428.98 L193.82,428.09 L195.05,427.20 L196.28,426.30 L197.51,425.40 L198.73,424.50 L199.95,423.59 L201.18,422.67 L202.40,421.76 L203.62,420.84 L204.85,419.92 L206.07,419.01 L207.29,418.09 L208.52,417.18 L209.74,416.26 L210.97,415.35 L212.20,414.44 L213.44,413.54 L214.67,412.64 L215.91,411.75 L217.15,410.86 L218.40,409.98 L219.65,409.11 L220.90,408.24 L222.16,407.39 L223.42,406.54 L224.69,405.71 L225.96,404.88 L227.24,404.07 L228.53,403.27 L229.82,402.48 L231.12,401.71 L232.42,400.95 L233.73,400.20 L235.05,399.46 L236.37,398.74 L237.70,398.04 L239.03,397.35 L240.37,396.67 L241.72,396.01 L243.07,395.36 L244.42,394.73 L245.79,394.12 L247.15,393.52 L248.53,392.93 L249.90,392.37 L251.29,391.82 L252.68,391.28 L254.07,390.76 L255.47,390.26 L256.87,389.78 L258.28,389.32 L259.69,388.87 L261.11,388.44 L262.53,388.03 L263.96,387.63 L265.39,387.26 L266.82,386.90 L268.26,386.57 L269.70,386.25 L271.15,385.95 L272.60,385.67 L274.06,385.41 L275.52,385.18 L276.98,384.96 L278.45,384.76 L279.92,384.59 L281.39,384.43 L282.87,384.30 L284.35,384.18 L285.84,384.09 L287.32,384.02 L288.82,383.97 L290.31,383.95 L291.81,383.94 L293.30,383.95 L294.80,383.99 L296.30,384.04 L297.81,384.11 L299.31,384.19 L300.81,384.30 L302.32,384.42 L303.82,384.55 L305.32,384.70 L306.82,384.87 L308.32,385.04 L309.82,385.23 L311.32,385.44 L312.82,385.65 L314.31,385.88 L315.80,386.12 L317.28,386.37 L318.77,386.62 L320.24,386.89 L321.72,387.17 L323.19,387.45 L324.66,387.74 L326.12,388.05 L327.59,388.36 L329.04,388.68 L330.50,389.01 L331.95,389.34 L333.39,389.69 L334.84,390.05 L336.28,390.41 L337.72,390.78 L339.15,391.16 L340.58,391.55 L342.01,391.94 L343.43,392.35 L344.86,392.76 L346.27,393.18 L347.69,393.60 L349.10,394.04 L350.51,394.48 L351.92,394.93 L353.32,395.39 L354.72,395.85 L356.12,396.32 L357.51,396.80 L358.90,397.29 L360.29,397.78 L361.68,398.28 L363.06,398.79 L364.45,399.31 L365.82,399.83 L367.20,400.36 L368.57,400.89 L369.94,401.43 L371.31,401.98 L372.68,402.53 L374.04,403.09 L375.40,403.66 L376.76,404.23 L378.12,404.81 L379.47,405.40 L380.82,405.99 L382.17,406.58 L383.52,407.18 L384.86,407.79 L386.21,408.41 L387.55,409.03 L388.89,409.65 L390.22,410.28 L391.56,410.92 L392.89,411.56 L394.22,412.20 L395.55,412.85 L396.88,413.51 L398.20,414.17 L399.53,414.84 L400.85,415.51 L402.17,416.18 L403.48,416.86 L404.80,417.55 L406.12,418.24 L407.43,418.93 L408.74,419.63 L410.05,420.33 L411.36,421.04 L412.67,421.75 L413.97,422.46 L415.27,423.18 L416.58,423.90 L417.88,424.63 L419.18,425.36 L420.48,426.09 L421.77,426.83 L423.07,427.57 L424.37,428.31 L425.66,429.06 L426.95,429.81 L428.24,430.56 L429.53,431.32 L430.82,432.08 L432.11,432.84 L433.40,433.61 L434.69,434.38 L435.97,435.15 L437.26,435.92 L438.54,436.70 L439.82,437.48 L441.11,438.26 L442.39,439.05 L443.67,439.83 L444.95,440.62 L446.23,441.41 L447.51,442.20 L448.79,443.00 L450.06,443.79 L451.34,444.59 L452.62,445.39 L453.89,446.19 L455.17,447.00 L456.45,447.80 L457.72,448.61 L459.00,449.42 L460.27,450.23 L461.55,451.04 L462.82,451.85 L464.09,452.66 L465.37,453.47 L466.64,454.29 L467.92,455.10 L469.19,455.92 L470.46,456.74 L471.74,457.55 L473.01,458.37 L474.28,459.19 L475.56,460.01 L476.83,460.83 L478.11,461.65 L479.38,462.47 L480.66,463.28 L481.93,464.10 L483.21,464.92 L484.48,465.74 L485.76,466.56 L487.03,467.38 L488.31,468.20 L489.59,469.02 L490.86,469.83 L492.14,470.65 L493.42,471.47 L494.70,472.28 L495.98,473.10 L497.26,473.91 L498.54,474.72 L499.83,475.53 L501.11,476.34 L502.39,477.15 L503.68,477.96 L504.96,478.77 L506.25,479.57 L507.54,480.37 L508.82,481.18 L510.11,481.98 L511.40,482.77 L512.70,483.57 L513.99,484.37 L515.28,485.16 L516.58,485.95 L517.87,486.74 L519.17,487.52 L520.47,488.31 L521.77,489.09 L523.07,489.87 L524.37,490.65 L525.67,491.42 L526.98,492.19 L528.29,492.96 L529.59,493.73 L530.90,494.49 L532.21,495.25 L533.53,496.01 L534.84,496.76 L536.16,497.51 L537.47,498.26 L538.79,499.01 L540.11,499.75 L541.43,500.49 L542.76,501.22 L544.08,501.96 L545.41,502.69 L546.73,503.42 L548.06,504.14 L549.39,504.86 L550.72,505.58 L552.06,506.30 L553.39,507.01 L554.73,507.72 L556.06,508.43 L557.40,509.13 L558.74,509.83 L560.08,510.53 L561.43,511.23 L562.77,511.92 L564.12,512.61 L565.46,513.29 L566.81,513.98 L568.16,514.65 L569.51,515.33 L570.86,516.01 L572.22,516.68 L573.57,517.34 L574.93,518.01 L576.29,518.67 L577.64,519.33 L579.00,519.98 L580.36,520.64 L581.73,521.28 L583.09,521.93 L584.46,522.57 L585.82,523.21 L587.19,523.85 L588.56,524.48 L589.93,525.11 L591.30,525.74 L592.67,526.37 L594.05,526.99 L595.42,527.60 L596.80,528.22 L598.18,528.83 L599.55,529.44 L600.93,530.05 L602.32,530.65 L603.70,531.25 L605.08,531.84 L606.47,532.43 L607.85,533.02 L609.24,533.61 L610.63,534.19 L612.01,534.77 L613.40,535.35 L614.80,535.92 L616.19,536.49 L617.58,537.06 L618.98,537.63 L620.37,538.19 L621.77,538.74 L623.17,539.30 L624.57,539.85 L625.97,540.40 L627.37,540.94 L628.77,541.48 L630.17,542.02 L631.58,542.55 L632.98,543.09 L634.39,543.61 L635.80,544.14 L637.21,544.66 L638.62,545.18 L640.03,545.69 L641.44,546.21 L642.85,546.71 L644.26,547.22 L645.68,547.72 L647.09,548.22 L648.51,548.71 L649.93,549.21 L651.35,549.69 L652.77,550.18 L654.19,550.66 L655.61,551.14 L657.03,551.61 L658.45,552.09 L659.88,552.55 L661.30,553.02 L662.73,553.48 L664.16,553.94 L665.58,554.39 L667.01,554.84 L668.44,555.29 L669.87,555.74 L671.30,556.18 L672.74,556.62 L674.17,557.05 L675.60,557.48 L677.04,557.91 L678.47,558.33 L679.91,558.75 L681.35,559.17 L682.79,559.58 L684.23,559.99 L685.66,560.40 L687.11,560.80 L688.55,561.20 L689.99,561.60 L691.43,561.99 L692.88,562.38 L694.32,562.77 L695.77,563.15 L697.21,563.53 L698.66,563.91 L700.11,564.28 L701.55,564.65 L703.00,565.01 L704.45,565.37 L705.90,565.73 L707.35,566.09 L708.81,566.44 L710.26,566.78 L711.71,567.13 L713.17,567.47 L714.62,567.81 L716.08,568.14 L717.53,568.47 L718.99,568.79 L720.45,569.12 L721.91,569.44 L723.36,569.75 L724.82,570.06 L726.28,570.37 L727.74,570.68 L729.21,570.98 L730.67,571.27 L732.13,571.57 L733.59,571.86 L735.06,572.14 L736.52,572.43 L737.99,572.71 L739.45,572.98 L740.92,573.25 L742.38,573.52 L743.85,573.79 L745.32,574.05 L746.79,574.30 L748.26,574.56 L749.73,574.81 L751.20,575.05 L752.67,575.30 L754.14,575.54 L755.61,575.77 L757.08,576.00 L758.55,576.23 L760.03,576.45 L761.50,576.67 L762.97,576.89 L764.45,577.10 L765.92,577.31 L767.40,577.52 L768.87,577.72 L770.35,577.92 L771.83,578.11 L773.30,578.30 L774.78,578.49 L776.26,578.67 L777.74,578.85 L779.22,579.03 L780.70,579.20 L782.18,579.37 L783.66,579.53 L785.14,579.69 L786.62,579.85 L788.10,580.00 L789.58,580.15 L791.06,580.29 L792.54,580.44 L794.03,580.57 L795.51,580.71 L796.99,580.84 L798.48,580.96 L799.96,581.08 L801.44,581.20 L802.93,581.32 L804.41,581.43 L805.90,581.54 L807.38,581.64 L808.87,581.74 L810.36,581.83 L811.84,581.93 L813.33,582.01 L814.82,582.10 L816.30,582.18 L817.79,582.26 L819.28,582.33 L820.77,582.40 L822.25,582.47 L823.74,582.53 L825.23,582.59 L826.72,582.65 L828.21,582.70 L829.70,582.75 L831.19,582.80 L832.68,582.84 L834.17,582.88 L835.66,582.92 L837.15,582.95 L838.64,582.98 L840.13,583.01 L841.62,583.03 L843.12,583.05 L844.61,583.07 L846.10,583.08 L847.59,583.09 L849.08,583.10 L850.58,583.10 L852.07,583.10 L853.56,583.10 L855.06,583.10 L856.55,583.09 L858.04,583.08 L859.54,583.07 L861.03,583.05 L862.53,583.03 L864.02,583.01 L865.51,582.99 L867.01,582.96 L868.50,582.93 L870.00,582.89 L871.49,582.86 L872.99,582.82 L874.48,582.78 L875.98,582.74 L877.48,582.69 L878.97,582.64 L880.47,582.59 L881.96,582.53 L883.46,582.48 L884.96,582.42 L886.45,582.35 L887.95,582.29 L889.45,582.22 L890.94,582.15 L892.44,582.08 L893.94,582.01 L895.43,581.93 L896.93,581.85 L898.43,581.77 L899.92,581.69 L901.42,581.60 L902.92,581.52 L904.42,581.43 L905.91,581.33 L907.41,581.24 L908.91,581.14 L910.41,581.04 L911.90,580.94 L913.40,580.84 L914.90,580.74 L916.40,580.63 L917.90,580.52 L919.39,580.41 L920.89,580.30 L922.39,580.18 L923.89,580.06 L925.39,579.95 L926.88,579.82 L928.38,579.70 L929.88,579.58 L931.38,579.45 L932.88,579.32 L934.37,579.20 L935.87,579.06 L937.37,578.93 L938.87,578.80 L940.37,578.66 L941.86,578.52 L943.36,578.38 L944.86,578.24 L946.36,578.10 L947.86,577.96 L949.35,577.81 L950.85,577.66 L952.35,577.51 L953.85,577.36 L955.34,577.21 L956.84,577.06 L958.34,576.91 L959.84,576.75 L961.33,576.59 L962.83,576.44 L964.33,576.28 L965.83,576.12 L967.32,575.95 L968.82,575.79 L970.32,575.63 L971.81,575.46 L973.31,575.30 L974.81,575.13 L976.30,574.96 L977.80,574.79 L979.30,574.62 L980.79,574.45 L982.29,574.27 L983.78,574.10 L985.28,573.93 L986.78,573.75 L988.27,573.57 L989.77,573.40 L991.26,573.22 L992.76,573.04 L994.25,572.86 L995.75,572.68 L997.24,572.50 L998.74,572.32 L1000.23,572.13 L1001.73,571.95 L1003.22,571.76 L1004.71,571.58 L1006.21,571.39 L1007.70,571.21 L1009.19,571.02 L1010.69,570.83 L1012.18,570.65 L1013.67,570.46 L1015.17,570.27 L1016.66,570.08 L1018.15,569.89 L1019.64,569.70 L1021.14,569.50 L1022.63,569.31 L1024.12,569.12 L1025.61,568.92 L1027.10,568.73 L1028.59,568.53 L1030.09,568.34 L1031.58,568.14 L1033.07,567.94 L1034.56,567.75 L1036.05,567.55 L1037.54,567.35 L1039.03,567.15 L1040.52,566.95 L1042.01,566.75 L1043.50,566.55 L1044.99,566.35 L1046.48,566.15 L1047.97,565.94 L1049.46,565.74 L1050.95,565.54 L1052.44,565.33 L1053.93,565.13 L1055.42,564.92 L1056.91,564.72 L1058.39,564.51 L1059.88,564.30 L1061.37,564.09 L1062.86,563.89 L1064.35,563.68 L1065.83,563.47 L1067.32,563.26 L1068.81,563.05 L1070.30,562.84 L1071.79,562.63 L1073.27,562.41 L1074.76,562.20 L1076.25,561.99 L1077.73,561.78 L1079.22,561.56 L1080.71,561.35 L1082.19,561.13 L1083.68,560.92 L1085.17,560.70 L1086.65,560.49 L1088.14,560.27 L1089.63,560.05 L1091.11,559.84 L1092.60,559.62 L1094.08,559.40 L1095.57,559.18 L1097.05,558.96 L1098.54,558.74 L1100.03,558.52 L1101.51,558.30 L1103.00,558.08 L1104.48,557.86 L1105.97,557.64 L1107.45,557.42 L1108.93,557.20 L1110.42,556.97 L1111.90,556.75 L1113.39,556.53 L1114.87,556.30 L1116.36,556.08 L1117.84,555.85 L1119.32,555.63 L1120.81,555.40 L1122.29,555.18 L1123.78,554.95 L1125.26,554.73 L1126.74,554.50 L1128.23,554.27 L1129.71,554.04 L1131.19,553.82 L1132.68,553.59 L1134.16,553.36 L1135.64,553.13 L1137.12,552.90 L1138.61,552.67 L1140.09,552.44 L1141.57,552.21 L1143.05,551.98 L1144.54,551.75 L1146.02,551.52 L1147.50,551.29 L1148.98,551.06 L1150.46,550.83 L1151.95,550.59 L1153.43,550.36 L1154.91,550.13 L1156.39,549.90 L1157.87,549.66 L1159.36,549.43 L1160.84,549.19 L1162.32,548.96 L1163.80,548.73 L1165.28,548.49 L1166.76,548.26 L1168.24,548.02 L1169.72,547.79 L1171.21,547.55 L1172.69,547.32 L1174.17,547.08 L1175.65,546.84 L1177.13,546.61 L1178.61,546.37 L1180.09,546.13 L1181.57,545.90 L1183.05,545.66 L1184.53,545.42 L1186.01,545.19 L1187.49,544.95 L1188.97,544.71 L1190.45,544.47 L1191.93,544.23 L1193.41,544.00 L1194.89,543.76 L1196.37,543.52 L1197.85,543.28 L1199.33,543.04 L1200.81,542.80 L1202.29,542.56 L1203.77,542.32 L1205.25,542.08 L1206.73,541.84 L1208.21,541.60 L1209.69,541.36 L1211.17,541.12 L1212.65,540.88 L1214.13,540.64 L1215.61,540.40 L1217.09,540.16 L1218.56,539.92 L1220.04,539.68 L1221.52,539.44 L1223.00,539.20 L1224.48,538.96 L1225.96,538.72 L1227.44,538.48 L1228.92,538.24 L1230.40,537.99 L1231.87,537.75 L1233.35,537.51 L1234.83,537.27 L1236.31,537.03 L1237.79,536.79 L1239.27,536.55 L1240.75,536.30 L1242.23,536.06 L1243.70,535.82 L1245.18,535.58 L1246.66,535.34 L1248.14,535.09 L1249.62,534.85 L1251.10,534.61 L1252.57,534.37 L1254.05,534.13 L1255.53,533.89 L1257.01,533.64 L1258.49,533.40 L1259.97,533.16 L1261.44,532.92 L1262.92,532.68 L1264.40,532.44 L1265.88,532.19 L1267.36,531.95 L1268.84,531.71 L1270.31,531.47 L1271.79,531.23 L1273.27,530.99 L1274.75,530.74 L1276.23,530.50 L1277.70,530.26 L1279.18,530.02 L1280.66,529.78 L1282.14,529.54 L1283.62,529.30 L1285.09,529.06 L1286.57,528.81 L1288.05,528.57 L1289.53,528.33 L1291.01,528.09 L1292.48,527.85 L1293.96,527.61 L1295.44,527.37 L1296.92,527.13 L1298.40,526.89 L1299.87,526.65 L1301.35,526.41 L1302.83,526.17 L1304.31,525.93 L1305.79,525.69 L1307.26,525.45 L1308.74,525.21 L1310.22,524.98 L1311.70,524.74 L1313.18,524.50 L1314.65,524.26 L1316.13,524.02 L1317.61,523.78 L1319.09,523.54 L1320.57,523.31 L1322.04,523.07 L1323.52,522.83 L1325.00,522.59 L1326.48,522.36 L1327.96,522.12 L1329.44,521.88 L1330.91,521.65 L1332.39,521.41 L1333.87,521.17 L1335.35,520.94 L1336.83,520.70 L1338.30,520.47 L1339.78,520.23 L1341.26,520.00 L1342.74,519.76 L1344.22,519.53 L1345.70,519.29 L1347.17,519.06 L1348.65,518.83 L1350.13,518.59 L1351.61,518.36 L1353.09,518.13 L1354.57,517.89 L1356.05,517.66 L1357.52,517.43 L1359.00,517.20 L1360.48,516.97 L1361.96,516.74 L1363.44,516.50 L1364.92,516.27 L1366.40,516.04 L1367.88,515.81 L1369.36,515.58 L1370.83,515.35 L1372.31,515.12 L1373.79,514.90 L1375.27,514.67 L1376.75,514.44 L1378.23,514.21 L1379.71,513.98 L1381.19,513.76 L1382.67,513.53 L1384.15,513.30 L1385.63,513.08 L1387.11,512.85 L1388.59,512.63 L1390.06,512.40 L1391.54,512.18 L1393.02,511.95 L1394.50,511.73 L1395.98,511.50 L1397.46,511.28 L1398.94,511.06 L1400.42,510.84 L1401.90,510.61 L1403.38,510.39 L1404.86,510.17 L1406.34,509.95 L1407.82,509.73 L1409.30,509.51 L1410.78,509.29 L1412.26,509.07 L1413.75,508.85 L1415.23,508.64 L1416.71,508.42 L1418.19,508.20 L1419.67,507.98 L1421.15,507.77 L1422.63,507.55 L1424.11,507.34 L1425.59,507.12 L1427.07,506.91 L1428.55,506.69 L1430.04,506.48 L1431.52,506.27 L1433.00,506.05 L1434.48,505.84 L1435.96,505.63 L1437.44,505.42 L1438.92,505.21 L1440.41,505.00 L1441.89,504.79 L1443.37,504.58 L1444.85,504.37 L1446.33,504.16 L1447.82,503.95 L1449.30,503.75 L1450.78,503.54 L1452.26,503.33 L1453.75,503.13 L1455.23,502.92 L1456.71,502.72 L1458.19,502.51 L1459.68,502.31 L1461.16,502.11 L1462.64,501.91 L1464.13,501.70 L1465.61,501.50 L1467.09,501.30 L1468.58,501.10 L1470.06,500.90 L1471.54,500.71 L1473.03,500.51 L1474.51,500.31 L1475.99,500.11 L1477.48,499.92 L1478.96,499.72 L1480.45,499.53 L1481.93,499.33 L1483.41,499.14 L1484.90,498.94 L1486.38,498.75 L1487.87,498.56 L1489.35,498.37 L1490.84,498.18 L1492.32,497.99 L1493.81,497.80 L1495.29,497.61 L1496.78,497.42 L1498.26,497.23 L1499.75,497.05 L1501.24,496.86 L1502.72,496.67 L1504.21,496.49 L1505.69,496.30 L1507.18,496.12 L1508.67,495.94 L1510.15,495.76 L1511.64,495.58 L1513.13,495.39 L1514.61,495.21 L1516.10,495.04 L1517.59,494.86 L1519.07,494.68 L1520.56,494.50 L1522.05,494.33 L1523.53,494.15 L1525.02,493.97 L1526.51,493.80 L1528.00,493.63 L1529.49,493.45 L1530.97,493.28 L1532.46,493.11 L1533.95,492.94 L1535.44,492.77 L1536.93,492.60 L1538.42,492.43 L1539.91,492.27 L1541.39,492.10 L1542.88,491.93 L1544.37,491.77 L1545.86,491.60 L1547.35,491.44 L1548.84,491.28 L1550.33,491.12 L1551.82,490.95 L1553.31,490.79 L1554.80,490.63 L1556.29,490.48 L1557.78,490.32 L1559.27,490.16 L1560.76,490.00 L1562.25,489.85 L1563.75,489.69 L1565.24,489.54 L1566.73,489.39 L1568.22,489.24 L1569.71,489.08 L1571.20,488.93 L1572.70,488.79 L1574.19,488.64 L1575.68,488.49 L1577.17,488.34 L1578.66,488.20 L1580.16,488.05 L1581.65,487.91 L1583.14,487.76 L1584.64,487.62 L1586.13,487.48 L1587.62,487.34 L1589.12,487.20 L1590.61,487.06 L1592.11,486.92 L1593.60,486.78 L1595.09,486.65 L1596.59,486.51 L1598.08,486.38 L1599.58,486.25 L1601.07,486.11 L1602.57,485.98 L1604.06,485.85 L1605.56,485.72 L1607.05,485.59 L1608.55,485.47 L1610.05,485.34 L1611.54,485.21 L1613.04,485.09 L1614.54,484.96 L1616.03,484.84 L1617.53,484.72 L1619.03,484.60 L1620.52,484.48 L1622.02,484.36 L1623.52,484.24 L1625.02,484.13 L1626.51,484.01 L1628.01,483.90 L1629.51,483.78 L1631.01,483.67 L1632.51,483.56 L1634.01,483.45 L1635.51,483.34 L1637.00,483.23 L1638.50,483.12 L1640.00,483.01 L1641.50,482.91 L1643.00,482.80 L1644.50,482.70 L1646.00,482.60 L1647.50,482.50 L1649.01,482.40 L1650.51,482.30 L1652.01,482.20 L1653.51,482.10 L1655.01,482.00 L1656.51,481.91 L1658.01,481.82 L1659.52,481.72 L1661.02,481.63 L1662.52,481.54 L1664.02,481.45 L1665.53,481.36 L1667.03,481.28 L1668.53,481.19 L1670.04,481.10 L1671.54,481.02 L1673.04,480.94 L1674.55,480.86 L1676.05,480.78 L1677.56,480.70 L1679.06,480.62 L1680.57,480.54 L1682.07,480.46 L1683.58,480.39 L1685.08,480.32 L1686.59,480.24 L1688.09,480.17 L1689.60,480.10" stroke="#B177DE"/>
<path d="M151.50,449.80 L153.01,449.83 L154.52,449.86 L156.03,449.88 L157.54,449.90 L159.04,449.92 L160.55,449.93 L162.06,449.93 L163.56,449.94 L165.07,449.94 L166.57,449.94 L168.08,449.93 L169.58,449.92 L171.09,449.91 L172.59,449.89 L174.09,449.87 L175.60,449.84 L177.10,449.82 L178.60,449.79 L180.10,449.75 L181.60,449.71 L183.10,449.67 L184.60,449.63 L186.10,449.58 L187.60,449.53 L189.10,449.48 L190.60,449.42 L192.10,449.36 L193.60,449.30 L195.09,449.23 L196.59,449.16 L198.09,449.09 L199.58,449.01 L201.08,448.93 L202.57,448.85 L204.07,448.76 L205.56,448.68 L207.06,448.59 L208.55,448.49 L210.05,448.39 L211.54,448.29 L213.03,448.19 L214.52,448.09 L216.02,447.98 L217.51,447.87 L219.00,447.75 L220.49,447.64 L221.98,447.52 L223.47,447.39 L224.96,447.27 L226.45,447.14 L227.94,447.01 L229.43,446.88 L230.92,446.74 L232.41,446.61 L233.89,446.47 L235.38,446.32 L236.87,446.18 L238.36,446.03 L239.84,445.88 L241.33,445.72 L242.82,445.57 L244.30,445.41 L245.79,445.25 L247.27,445.09 L248.76,444.92 L250.24,444.76 L251.73,444.59 L253.21,444.41 L254.70,444.24 L256.18,444.06 L257.66,443.88 L259.15,443.70 L260.63,443.52 L262.11,443.34 L263.60,443.15 L265.08,442.96 L266.56,442.77 L268.04,442.57 L269.52,442.38 L271.00,442.18 L272.49,441.98 L273.97,441.78 L275.45,441.58 L276.93,441.37 L278.41,441.16 L279.89,440.95 L281.37,440.74 L282.85,440.53 L284.33,440.32 L285.80,440.10 L287.28,439.88 L288.76,439.66 L290.24,439.44 L291.72,439.22 L293.20,438.99 L294.68,438.76 L296.15,438.54 L297.63,438.31 L299.11,438.07 L300.58,437.84 L302.06,437.61 L303.54,437.37 L305.02,437.13 L306.49,436.89 L307.97,436.65 L309.44,436.41 L310.92,436.17 L312.40,435.92 L313.87,435.68 L315.35,435.43 L316.82,435.18 L318.30,434.93 L319.77,434.68 L321.25,434.43 L322.72,434.17 L324.20,433.92 L325.67,433.66 L327.15,433.40 L328.62,433.14 L330.10,432.88 L331.57,432.62 L333.05,432.36 L334.52,432.10 L335.99,431.83 L337.47,431.57 L338.94,431.30 L340.41,431.04 L341.89,430.77 L343.36,430.50 L344.83,430.23 L346.31,429.96 L347.78,429.69 L349.25,429.42 L350.73,429.14 L352.20,428.87 L353.67,428.59 L355.15,428.32 L356.62,428.04 L358.09,427.77 L359.56,427.49 L361.04,427.21 L362.51,426.93 L363.98,426.65 L365.46,426.37 L366.93,426.09 L368.40,425.81 L369.87,425.53 L371.35,425.25 L372.82,424.96 L374.29,424.68 L375.76,424.40 L377.23,424.11 L378.71,423.83 L380.18,423.54 L381.65,423.26 L383.12,422.97 L384.60,422.69 L386.07,422.40 L387.54,422.12 L389.01,421.83 L390.49,421.54 L391.96,421.26 L393.43,420.97 L394.90,420.68 L396.38,420.40 L397.85,420.11 L399.32,419.82 L400.79,419.53 L402.27,419.25 L403.74,418.96 L405.21,418.67 L406.68,418.38 L408.16,418.10 L409.63,417.81 L411.10,417.52 L412.58,417.24 L414.05,416.95 L415.52,416.66 L416.99,416.38 L418.47,416.09 L419.94,415.80 L421.41,415.52 L422.89,415.23 L424.36,414.95 L425.84,414.66 L427.31,414.38 L428.78,414.09 L430.26,413.81 L431.73,413.52 L433.20,413.24 L434.68,412.96 L436.15,412.67 L437.63,412.39 L439.10,412.11 L440.58,411.83 L442.05,411.54 L443.53,411.26 L445.00,410.98 L446.47,410.70 L447.95,410.42 L449.42,410.14 L450.90,409.86 L452.37,409.58 L453.85,409.30 L455.32,409.02 L456.80,408.74 L458.28,408.46 L459.75,408.19 L461.23,407.91 L462.70,407.63 L464.18,407.36 L465.65,407.08 L467.13,406.80 L468.60,406.53 L470.08,406.25 L471.56,405.98 L473.03,405.70 L474.51,405.43 L475.99,405.15 L477.46,404.88 L478.94,404.61 L480.42,404.34 L481.89,404.06 L483.37,403.79 L484.85,403.52 L486.32,403.25 L487.80,402.98 L489.28,402.71 L490.75,402.44 L492.23,402.17 L493.71,401.90 L495.18,401.63 L496.66,401.36 L498.14,401.10 L499.62,400.83 L501.09,400.56 L502.57,400.30 L504.05,400.03 L505.53,399.77 L507.01,399.50 L508.48,399.24 L509.96,398.97 L511.44,398.71 L512.92,398.45 L514.40,398.19 L515.88,397.92 L517.35,397.66 L518.83,397.40 L520.31,397.14 L521.79,396.88 L523.27,396.62 L524.75,396.37 L526.23,396.11 L527.71,395.85 L529.18,395.59 L530.66,395.34 L532.14,395.08 L533.62,394.82 L535.10,394.57 L536.58,394.32 L538.06,394.06 L539.54,393.81 L541.02,393.56 L542.50,393.30 L543.98,393.05 L545.46,392.80 L546.94,392.55 L548.42,392.30 L549.90,392.05 L551.38,391.80 L552.86,391.55 L554.34,391.31 L555.82,391.06 L557.30,390.81 L558.78,390.57 L560.26,390.32 L561.74,390.08 L563.22,389.83 L564.71,389.59 L566.19,389.35 L567.67,389.11 L569.15,388.87 L570.63,388.62 L572.11,388.38 L573.59,388.15 L575.07,387.91 L576.56,387.67 L578.04,387.43 L579.52,387.19 L581.00,386.96 L582.48,386.72 L583.96,386.49 L585.45,386.25 L586.93,386.02 L588.41,385.79 L589.89,385.56 L591.38,385.32 L592.86,385.09 L594.34,384.86 L595.82,384.63 L597.31,384.41 L598.79,384.18 L600.27,383.95 L601.75,383.72 L603.24,383.50 L604.72,383.27 L606.20,383.05 L607.69,382.83 L609.17,382.60 L610.65,382.38 L612.14,382.16 L613.62,381.94 L615.10,381.72 L616.59,381.50 L618.07,381.28 L619.55,381.06 L621.04,380.85 L622.52,380.63 L624.01,380.42 L625.49,380.20 L626.97,379.99 L628.46,379.78 L629.94,379.56 L631.43,379.35 L632.91,379.14 L634.40,378.93 L635.88,378.72 L637.37,378.51 L638.85,378.31 L640.33,378.10 L641.82,377.89 L643.30,377.69 L644.79,377.49 L646.27,377.28 L647.76,377.08 L649.25,376.88 L650.73,376.68 L652.22,376.48 L653.70,376.28 L655.19,376.08 L656.67,375.88 L658.16,375.69 L659.64,375.49 L661.13,375.30 L662.62,375.10 L664.10,374.91 L665.59,374.72 L667.07,374.53 L668.56,374.34 L670.05,374.15 L671.53,373.96 L673.02,373.77 L674.51,373.58 L675.99,373.40 L677.48,373.21 L678.97,373.03 L680.45,372.85 L681.94,372.67 L683.43,372.48 L684.91,372.30 L686.40,372.12 L687.89,371.95 L689.38,371.77 L690.86,371.59 L692.35,371.42 L693.84,371.24 L695.33,371.07 L696.81,370.90 L698.30,370.72 L699.79,370.55 L701.28,370.38 L702.77,370.21 L704.25,370.05 L705.74,369.88 L707.23,369.71 L708.72,369.55 L710.21,369.38 L711.70,369.22 L713.18,369.06 L714.67,368.90 L716.16,368.74 L717.65,368.58 L719.14,368.42 L720.63,368.26 L722.12,368.11 L723.61,367.95 L725.09,367.80 L726.58,367.64 L728.07,367.49 L729.56,367.34 L731.05,367.19 L732.54,367.04 L734.03,366.89 L735.52,366.74 L737.01,366.59 L738.50,366.45 L739.99,366.30 L741.48,366.16 L742.97,366.01 L744.46,365.87 L745.95,365.73 L747.44,365.59 L748.93,365.45 L750.42,365.31 L751.91,365.17 L753.40,365.03 L754.89,364.90 L756.38,364.76 L757.87,364.63 L759.36,364.50 L760.85,364.36 L762.34,364.23 L763.84,364.10 L765.33,363.97 L766.82,363.84 L768.31,363.71 L769.80,363.59 L771.29,363.46 L772.78,363.33 L774.27,363.21 L775.77,363.08 L777.26,362.96 L778.75,362.84 L780.24,362.72 L781.73,362.60 L783.22,362.48 L784.71,362.36 L786.21,362.24 L787.70,362.13 L789.19,362.01 L790.68,361.89 L792.17,361.78 L793.67,361.67 L795.16,361.55 L796.65,361.44 L798.14,361.33 L799.64,361.22 L801.13,361.11 L802.62,361.00 L804.11,360.90 L805.61,360.79 L807.10,360.68 L808.59,360.58 L810.08,360.47 L811.58,360.37 L813.07,360.27 L814.56,360.17 L816.06,360.06 L817.55,359.96 L819.04,359.86 L820.54,359.77 L822.03,359.67 L823.52,359.57 L825.02,359.48 L826.51,359.38 L828.00,359.29 L829.50,359.19 L830.99,359.10 L832.48,359.01 L833.98,358.92 L835.47,358.83 L836.97,358.74 L838.46,358.65 L839.95,358.56 L841.45,358.47 L842.94,358.39 L844.44,358.30 L845.93,358.22 L847.42,358.13 L848.92,358.05 L850.41,357.97 L851.91,357.88 L853.40,357.80 L854.90,357.72 L856.39,357.64 L857.89,357.56 L859.38,357.49 L860.88,357.41 L862.37,357.33 L863.86,357.26 L865.36,357.18 L866.85,357.11 L868.35,357.04 L869.84,356.96 L871.34,356.89 L872.83,356.82 L874.33,356.75 L875.83,356.68 L877.32,356.61 L878.82,356.54 L880.31,356.48 L881.81,356.41 L883.30,356.34 L884.80,356.28 L886.29,356.21 L887.79,356.15 L889.28,356.09 L890.78,356.03 L892.28,355.96 L893.77,355.90 L895.27,355.84 L896.76,355.78 L898.26,355.73 L899.76,355.67 L901.25,355.61 L902.75,355.56 L904.24,355.50 L905.74,355.44 L907.24,355.39 L908.73,355.34 L910.23,355.28 L911.73,355.23 L913.22,355.18 L914.72,355.13 L916.22,355.08 L917.71,355.03 L919.21,354.98 L920.70,354.93 L922.20,354.89 L923.70,354.84 L925.20,354.79 L926.69,354.75 L928.19,354.70 L929.69,354.66 L931.18,354.62 L932.68,354.58 L934.18,354.53 L935.67,354.49 L937.17,354.45 L938.67,354.41 L940.17,354.37 L941.66,354.34 L943.16,354.30 L944.66,354.26 L946.15,354.22 L947.65,354.19 L949.15,354.15 L950.65,354.12 L952.14,354.08 L953.64,354.05 L955.14,354.02 L956.64,353.99 L958.14,353.96 L959.63,353.93 L961.13,353.90 L962.63,353.87 L964.13,353.84 L965.62,353.81 L967.12,353.78 L968.62,353.76 L970.12,353.73 L971.62,353.70 L973.11,353.68 L974.61,353.66 L976.11,353.63 L977.61,353.61 L979.11,353.59 L980.61,353.56 L982.10,353.54 L983.60,353.52 L985.10,353.50 L986.60,353.48 L988.10,353.47 L989.60,353.45 L991.09,353.43 L992.59,353.41 L994.09,353.40 L995.59,353.38 L997.09,353.37 L998.59,353.35 L1000.09,353.34 L1001.58,353.33 L1003.08,353.31 L1004.58,353.30 L1006.08,353.29 L1007.58,353.28 L1009.08,353.27 L1010.58,353.26 L1012.08,353.25 L1013.58,353.24 L1015.07,353.23 L1016.57,353.22 L1018.07,353.22 L1019.57,353.21 L1021.07,353.21 L1022.57,353.20 L1024.07,353.20 L1025.57,353.19 L1027.07,353.19 L1028.57,353.19 L1030.07,353.18 L1031.57,353.18 L1033.06,353.18 L1034.56,353.18 L1036.06,353.18 L1037.56,353.18 L1039.06,353.18 L1040.56,353.18 L1042.06,353.19 L1043.56,353.19 L1045.06,353.19 L1046.56,353.19 L1048.06,353.20 L1049.56,353.20 L1051.06,353.21 L1052.56,353.21 L1054.06,353.22 L1055.56,353.23 L1057.06,353.24 L1058.56,353.24 L1060.06,353.25 L1061.56,353.26 L1063.06,353.27 L1064.56,353.28 L1066.06,353.29 L1067.56,353.30 L1069.06,353.31 L1070.56,353.33 L1072.06,353.34 L1073.56,353.35 L1075.06,353.36 L1076.56,353.38 L1078.06,353.39 L1079.56,353.41 L1081.06,353.42 L1082.56,353.44 L1084.06,353.46 L1085.56,353.47 L1087.06,353.49 L1088.56,353.51 L1090.06,353.53 L1091.56,353.55 L1093.06,353.57 L1094.56,353.59 L1096.06,353.61 L1097.56,353.63 L1099.06,353.65 L1100.56,353.67 L1102.06,353.69 L1103.56,353.71 L1105.06,353.74 L1106.56,353.76 L1108.06,353.79 L1109.56,353.81 L1111.07,353.84 L1112.57,353.86 L1114.07,353.89 L1115.57,353.91 L1117.07,353.94 L1118.57,353.97 L1120.07,354.00 L1121.57,354.02 L1123.07,354.05 L1124.57,354.08 L1126.07,354.11 L1127.57,354.14 L1129.07,354.17 L1130.57,354.20 L1132.07,354.23 L1133.58,354.26 L1135.08,354.30 L1136.58,354.33 L1138.08,354.36 L1139.58,354.40 L1141.08,354.43 L1142.58,354.46 L1144.08,354.50 L1145.58,354.53 L1147.08,354.57 L1148.58,354.60 L1150.08,354.64 L1151.59,354.68 L1153.09,354.71 L1154.59,354.75 L1156.09,354.79 L1157.59,354.83 L1159.09,354.87 L1160.59,354.91 L1162.09,354.95 L1163.59,354.99 L1165.09,355.03 L1166.60,355.07 L1168.10,355.11 L1169.60,355.15 L1171.10,355.19 L1172.60,355.23 L1174.10,355.28 L1175.60,355.32 L1177.10,355.36 L1178.60,355.41 L1180.11,355.45 L1181.61,355.49 L1183.11,355.54 L1184.61,355.58 L1186.11,355.63 L1187.61,355.68 L1189.11,355.72 L1190.61,355.77 L1192.11,355.81 L1193.62,355.86 L1195.12,355.91 L1196.62,355.96 L1198.12,356.01 L1199.62,356.06 L1201.12,356.10 L1202.62,356.15 L1204.12,356.20 L1205.63,356.25 L1207.13,356.30 L1208.63,356.35 L1210.13,356.41 L1211.63,356.46 L1213.13,356.51 L1214.63,356.56 L1216.13,356.61 L1217.64,356.67 L1219.14,356.72 L1220.64,356.77 L1222.14,356.83 L1223.64,356.88 L1225.14,356.93 L1226.64,356.99 L1228.14,357.04 L1229.65,357.10 L1231.15,357.16 L1232.65,357.21 L1234.15,357.27 L1235.65,357.32 L1237.15,357.38 L1238.65,357.44 L1240.15,357.50 L1241.66,357.55 L1243.16,357.61 L1244.66,357.67 L1246.16,357.73 L1247.66,357.79 L1249.16,357.85 L1250.66,357.91 L1252.16,357.96 L1253.67,358.02 L1255.17,358.09 L1256.67,358.15 L1258.17,358.21 L1259.67,358.27 L1261.17,358.33 L1262.67,358.39 L1264.17,358.45 L1265.68,358.51 L1267.18,358.58 L1268.68,358.64 L1270.18,358.70 L1271.68,358.77 L1273.18,358.83 L1274.68,358.89 L1276.18,358.96 L1277.68,359.02 L1279.19,359.09 L1280.69,359.15 L1282.19,359.22 L1283.69,359.28 L1285.19,359.35 L1286.69,359.41 L1288.19,359.48 L1289.69,359.54 L1291.19,359.61 L1292.70,359.68 L1294.20,359.74 L1295.70,359.81 L1297.20,359.88 L1298.70,359.95 L1300.20,360.01 L1301.70,360.08 L1303.20,360.15 L1304.70,360.22 L1306.21,360.29 L1307.71,360.36 L1309.21,360.42 L1310.71,360.49 L1312.21,360.56 L1313.71,360.63 L1315.21,360.70 L1316.71,360.77 L1318.21,360.84 L1319.71,360.91 L1321.21,360.98 L1322.72,361.06 L1324.22,361.13 L1325.72,361.20 L1327.22,361.27 L1328.72,361.34 L1330.22,361.41 L1331.72,361.48 L1333.22,361.56 L1334.72,361.63 L1336.22,361.70 L1337.72,361.77 L1339.22,361.85 L1340.73,361.92 L1342.23,361.99 L1343.73,362.07 L1345.23,362.14 L1346.73,362.21 L1348.23,362.29 L1349.73,362.36 L1351.23,362.44 L1352.73,362.51 L1354.23,362.59 L1355.73,362.66 L1357.23,362.74 L1358.73,362.81 L1360.23,362.89 L1361.73,362.96 L1363.23,363.04 L1364.73,363.11 L1366.24,363.19 L1367.74,363.26 L1369.24,363.34 L1370.74,363.42 L1372.24,363.49 L1373.74,363.57 L1375.24,363.65 L1376.74,363.72 L1378.24,363.80 L1379.74,363.88 L1381.24,363.95 L1382.74,364.03 L1384.24,364.11 L1385.74,364.18 L1387.24,364.26 L1388.74,364.34 L1390.24,364.42 L1391.74,364.50 L1393.24,364.57 L1394.74,364.65 L1396.24,364.73 L1397.74,364.81 L1399.24,364.89 L1400.74,364.96 L1402.24,365.04 L1403.74,365.12 L1405.24,365.20 L1406.74,365.28 L1408.24,365.36 L1409.74,365.44 L1411.24,365.52 L1412.74,365.60 L1414.24,365.67 L1415.74,365.75 L1417.24,365.83 L1418.74,365.91 L1420.24,365.99 L1421.74,366.07 L1423.24,366.15 L1424.74,366.23 L1426.24,366.31 L1427.74,366.39 L1429.23,366.47 L1430.73,366.55 L1432.23,366.63 L1433.73,366.71 L1435.23,366.79 L1436.73,366.87 L1438.23,366.95 L1439.73,367.03 L1441.23,367.11 L1442.73,367.19 L1444.23,367.27 L1445.73,367.35 L1447.23,367.44 L1448.73,367.52 L1450.22,367.60 L1451.72,367.68 L1453.22,367.76 L1454.72,367.84 L1456.22,367.92 L1457.72,368.00 L1459.22,368.08 L1460.72,368.16 L1462.22,368.24 L1463.71,368.32 L1465.21,368.40 L1466.71,368.49 L1468.21,368.57 L1469.71,368.65 L1471.21,368.73 L1472.71,368.81 L1474.21,368.89 L1475.70,368.97 L1477.20,369.05 L1478.70,369.13 L1480.20,369.21 L1481.70,369.30 L1483.20,369.38 L1484.69,369.46 L1486.19,369.54 L1487.69,369.62 L1489.19,369.70 L1490.69,369.78 L1492.19,369.86 L1493.68,369.94 L1495.18,370.02 L1496.68,370.11 L1498.18,370.19 L1499.68,370.27 L1501.17,370.35 L1502.67,370.43 L1504.17,370.51 L1505.67,370.59 L1507.16,370.67 L1508.66,370.75 L1510.16,370.83 L1511.66,370.91 L1513.16,370.99 L1514.65,371.07 L1516.15,371.15 L1517.65,371.23 L1519.15,371.31 L1520.64,371.40 L1522.14,371.48 L1523.64,371.56 L1525.14,371.64 L1526.63,371.72 L1528.13,371.80 L1529.63,371.88 L1531.12,371.96 L1532.62,372.04 L1534.12,372.12 L1535.62,372.19 L1537.11,372.27 L1538.61,372.35 L1540.11,372.43 L1541.60,372.51 L1543.10,372.59 L1544.60,372.67 L1546.09,372.75 L1547.59,372.83 L1549.09,372.91 L1550.58,372.99 L1552.08,373.07 L1553.58,373.15 L1555.07,373.22 L1556.57,373.30 L1558.07,373.38 L1559.56,373.46 L1561.06,373.54 L1562.55,373.62 L1564.05,373.69 L1565.55,373.77 L1567.04,373.85 L1568.54,373.93 L1570.03,374.00 L1571.53,374.08 L1573.03,374.16 L1574.52,374.24 L1576.02,374.31 L1577.51,374.39 L1579.01,374.47 L1580.50,374.54 L1582.00,374.62 L1583.50,374.70 L1584.99,374.77 L1586.49,374.85 L1587.98,374.93 L1589.48,375.00 L1590.97,375.08 L1592.47,375.15 L1593.96,375.23 L1595.46,375.30 L1596.95,375.38 L1598.45,375.45 L1599.94,375.53 L1601.44,375.60 L1602.93,375.68 L1604.43,375.75 L1605.92,375.83 L1607.42,375.90 L1608.91,375.98 L1610.41,376.05 L1611.90,376.12 L1613.40,376.20 L1614.89,376.27 L1616.39,376.34 L1617.88,376.42 L1619.37,376.49 L1620.87,376.56 L1622.36,376.64 L1623.86,376.71 L1625.35,376.78 L1626.84,376.85 L1628.34,376.92 L1629.83,376.99 L1631.33,377.07 L1632.82,377.14 L1634.31,377.21 L1635.81,377.28 L1637.30,377.35 L1638.80,377.42 L1640.29,377.49 L1641.78,377.56 L1643.28,377.63 L1644.77,377.70 L1646.26,377.77 L1647.76,377.84 L1649.25,377.91 L1650.74,377.98 L1652.23,378.05 L1653.73,378.11 L1655.22,378.18 L1656.71,378.25 L1658.21,378.32 L1659.70,378.38 L1661.19,378.45 L1662.68,378.52 L1664.18,378.59 L1665.67,378.65 L1667.16,378.72 L1668.65,378.78 L1670.15,378.85 L1671.64,378.92 L1673.13,378.98 L1674.62,379.05 L1676.12,379.11 L1677.61,379.18 L1679.10,379.24 L1680.59,379.30 L1682.08,379.37 L1683.58,379.43 L1685.07,379.50 L1686.56,379.56 L1688.05,379.62 L1689.54,379.68 L1691.03,379.75 L1692.52,379.81 L1694.02,379.87 L1695.51,379.93 L1697.00,379.99" stroke="#CC9900"/>
</g>
<line x1="1700.9" y1="17" x2="1700.9" y2="741" stroke="#000" stroke-width="6.3" stroke-dasharray="20.3 13.99" stroke-dashoffset="18.79"/>
<g stroke="#000" stroke-width="3.2" fill="none">
<path d="M280.91,741.30V732.30M280.91,15.70V24.70M411.91,741.30V723.30M411.91,15.70V33.70M542.92,741.30V732.30M542.92,15.70V24.70M673.93,741.30V723.30M673.93,15.70V33.70M804.94,741.30V732.30M804.94,15.70V24.70M935.94,741.30V723.30M935.94,15.70V33.70M1066.95,741.30V732.30M1066.95,15.70V24.70M1197.96,741.30V723.30M1197.96,15.70V33.70M1328.96,741.30V732.30M1328.96,15.70V24.70M1459.97,741.30V723.30M1459.97,15.70V33.70M1590.98,741.30V732.30M1590.98,15.70V24.70M1721.99,741.30V723.30M1721.99,15.70V33.70M1852.99,741.30V732.30M1852.99,15.70V24.70M149.90,668.75H158.90M1984.00,668.75H1975.00M149.90,596.20H167.90M1984.00,596.20H1966.00M149.90,523.65H158.90M1984.00,523.65H1975.00M149.90,451.10H167.90M1984.00,451.10H1966.00M149.90,378.55H158.90M1984.00,378.55H1975.00M149.90,306.00H167.90M1984.00,306.00H1966.00M149.90,233.45H158.90M1984.00,233.45H1975.00M149.90,160.90H167.90M1984.00,160.90H1966.00M149.90,88.35H158.90M1984.00,88.35H1975.00"/>
</g>
<rect x="149.90" y="15.70" width="1834.10" height="725.60" fill="none" stroke="#000" stroke-width="3.3" stroke-linejoin="miter"/>
<g font-family="Liberation Serif, 'Times New Roman', serif" font-size="42" fill="#000">
<text x="149.90" y="793.1" text-anchor="middle">0.0</text>
<text x="411.91" y="793.1" text-anchor="middle">0.5</text>
<text x="673.93" y="793.1" text-anchor="middle">1.0</text>
<text x="935.94" y="793.1" text-anchor="middle">1.5</text>
<text x="1197.96" y="793.1" text-anchor="middle">2.0</text>
<text x="1459.97" y="793.1" text-anchor="middle">2.5</text>
<text x="1721.99" y="793.1" text-anchor="middle">3.0</text>
<text x="1984.00" y="793.1" text-anchor="middle">3.5</text>
<text x="129.3" y="28.80" text-anchor="end">3</text>
<text x="129.3" y="173.90" text-anchor="end">2</text>
<text x="129.3" y="319.00" text-anchor="end">1</text>
<text x="129.3" y="464.10" text-anchor="end">0</text>
<text x="129.3" y="609.20" text-anchor="end">−1</text>
<text x="129.3" y="754.30" text-anchor="end">−2</text>
</g>
<text font-family="Liberation Serif, 'Times New Roman', serif" font-size="50" font-weight="bold" x="1012.6" y="848.1"><tspan font-style="italic">r</tspan> (a<tspan font-size="35" dy="13.3">0</tspan><tspan dy="-13.3">)</tspan></text>
<text font-family="Liberation Serif, 'Times New Roman', serif" font-size="49" font-weight="bold" font-style="italic" transform="translate(52.5,416.3) rotate(-90)">y(r)</text>
<text font-family="Liberation Serif, 'Times New Roman', serif" font-size="50" font-weight="bold" x="1902.4" y="62.5">(a)</text>
<text font-family="Liberation Serif, 'Times New Roman', serif" font-size="50" font-weight="bold" x="1707.5" y="321.3"><tspan font-style="italic">r</tspan><tspan x="1726.7" y="335.5" font-size="35">0</tspan></text>
<g stroke-width="4.5" stroke-linecap="round">
<line x1="1271.9" y1="97.7" x2="1385.9" y2="97.7" stroke="#515151"/>
<line x1="1271.9" y1="160.4" x2="1385.9" y2="160.4" stroke="#F14040"/>
<line x1="1271.9" y1="223.1" x2="1385.9" y2="223.1" stroke="#1A6FDF"/>
<line x1="1461.3" y1="97.7" x2="1575.0" y2="97.7" stroke="#37AD6B"/>
<line x1="1461.3" y1="160.4" x2="1575.0" y2="160.4" stroke="#B177DE"/>
<line x1="1461.3" y1="223.1" x2="1575.0" y2="223.1" stroke="#CC9900"/>
</g>
<g font-family="Liberation Serif, 'Times New Roman', serif" font-size="51" fill="#000">
<text x="1399.0" y="114.6">1s</text>
<text x="1399.0" y="177.3">2s</text>
<text x="1399.0" y="240.0">2p</text>
<text x="1586.8" y="114.6">3s</text>
<text x="1586.8" y="177.3">3p</text>
<text x="1586.8" y="240.0">3d</text>
</g>
<rect x="150.9" y="976.0" width="1832.1" height="28.4" fill="#D3D3D3" stroke="#C6C6C6" stroke-width="1.2"/>
<g stroke="#000" stroke-width="3.3" fill="none" stroke-linecap="butt">
<path d="M148.30,868.90H874.70 M906.80,868.90H1985.60"/>
<path d="M148.30,1485.60H874.70 M906.80,1485.60H1985.60"/>
<path d="M149.90,868.90V1223.34 M149.90,1233.06V1485.60"/>
<path d="M1984.00,868.90V1223.34 M1984.00,1233.06V1485.60"/>
</g>
<g stroke="#000" stroke-width="3.2" fill="none">
<line x1="859.40" y1="885.30" x2="890.00" y2="852.50"/>
<line x1="891.50" y1="885.30" x2="922.10" y2="852.50"/>
<line x1="859.40" y1="1502.00" x2="890.00" y2="1469.20"/>
<line x1="891.50" y1="1502.00" x2="922.10" y2="1469.20"/>
<line x1="133.20" y1="1228.44" x2="166.60" y2="1218.24"/>
<line x1="133.20" y1="1238.16" x2="166.60" y2="1227.96"/>
<line x1="1967.30" y1="1228.44" x2="2000.70" y2="1218.24"/>
<line x1="1967.30" y1="1238.16" x2="2000.70" y2="1227.96"/>
</g>
<path d="M263.15,1485.60V1477.10M263.15,868.90V877.40M376.40,1485.60V1468.60M376.40,868.90V885.90M489.65,1485.60V1477.10M489.65,868.90V877.40M602.90,1485.60V1468.60M602.90,868.90V885.90M716.15,1485.60V1477.10M716.15,868.90V877.40M829.40,1485.60V1468.60M829.40,868.90V885.90M1004.70,1485.60V1468.60M1004.70,868.90V885.90M1102.63,1485.60V1477.10M1102.63,868.90V877.40M1200.56,1485.60V1468.60M1200.56,868.90V885.90M1298.49,1485.60V1477.10M1298.49,868.90V877.40M1396.42,1485.60V1468.60M1396.42,868.90V885.90M1494.35,1485.60V1477.10M1494.35,868.90V877.40M1592.28,1485.60V1468.60M1592.28,868.90V885.90M1690.21,1485.60V1477.10M1690.21,868.90V877.40M1788.14,1485.60V1468.60M1788.14,868.90V885.90M1886.07,1485.60V1477.10M1886.07,868.90V877.40M149.90,902.78H158.40M1984.00,902.78H1975.50M149.90,938.40H166.90M1984.00,938.40H1967.00M149.90,974.02H158.40M1984.00,974.02H1975.50M149.90,1009.63H166.90M1984.00,1009.63H1967.00M149.90,1045.25H158.40M1984.00,1045.25H1975.50M149.90,1080.87H166.90M1984.00,1080.87H1967.00M149.90,1116.49H158.40M1984.00,1116.49H1975.50M149.90,1152.11H166.90M1984.00,1152.11H1967.00M149.90,1187.72H158.40M1984.00,1187.72H1975.50M149.90,1264.63H158.40M1984.00,1264.63H1975.50M149.90,1296.19H166.90M1984.00,1296.19H1967.00M149.90,1327.76H158.40M1984.00,1327.76H1975.50M149.90,1359.33H166.90M1984.00,1359.33H1967.00M149.90,1390.90H158.40M1984.00,1390.90H1975.50M149.90,1422.46H166.90M1984.00,1422.46H1967.00M149.90,1454.03H158.40M1984.00,1454.03H1975.50" stroke="#000" stroke-width="3.2" fill="none"/>
<line x1="152" y1="937.7" x2="1982" y2="935.6" stroke="#505050" stroke-width="6.1" stroke-dasharray="8.5 6.37" stroke-dashoffset="9.48"/>
<defs><clipPath id="cl"><rect x="149.9" y="1233.1" width="724.8" height="252.5"/></clipPath><clipPath id="ch"><rect x="906.8" y="868.9" width="1077.2" height="354.4"/></clipPath></defs>
<path d="M774.2,1490 L832.3,1251.5 L849,1227" fill="none" stroke="#1A6FDF" stroke-width="5.8" stroke-linejoin="round" clip-path="url(#cl)"/>
<path d="M903.00,1160.40 L904.05,1159.30 L905.10,1158.21 L906.16,1157.12 L907.22,1156.04 L908.28,1154.96 L909.35,1153.89 L910.42,1152.82 L911.50,1151.76 L912.58,1150.71 L913.67,1149.66 L914.76,1148.61 L915.85,1147.57 L916.95,1146.54 L918.05,1145.51 L919.16,1144.48 L920.26,1143.46 L921.38,1142.45 L922.50,1141.44 L923.62,1140.44 L924.74,1139.44 L925.87,1138.45 L927.00,1137.46 L928.14,1136.48 L929.28,1135.50 L930.42,1134.53 L931.57,1133.56 L932.72,1132.60 L933.88,1131.64 L935.04,1130.69 L936.20,1129.75 L937.36,1128.80 L938.53,1127.87 L939.71,1126.94 L940.88,1126.01 L942.06,1125.09 L943.25,1124.17 L944.43,1123.26 L945.62,1122.35 L946.82,1121.45 L948.01,1120.55 L949.21,1119.66 L950.42,1118.77 L951.62,1117.89 L952.83,1117.01 L954.05,1116.14 L955.26,1115.27 L956.48,1114.40 L957.70,1113.54 L958.93,1112.69 L960.16,1111.84 L961.39,1110.99 L962.63,1110.15 L963.86,1109.32 L965.11,1108.49 L966.35,1107.66 L967.60,1106.84 L968.85,1106.02 L970.10,1105.21 L971.36,1104.40 L972.61,1103.59 L973.88,1102.80 L975.14,1102.00 L976.41,1101.21 L977.68,1100.42 L978.95,1099.64 L980.23,1098.86 L981.50,1098.09 L982.78,1097.32 L984.07,1096.56 L985.35,1095.80 L986.64,1095.04 L987.93,1094.29 L989.23,1093.54 L990.52,1092.80 L991.82,1092.06 L993.12,1091.33 L994.42,1090.60 L995.73,1089.87 L997.04,1089.15 L998.35,1088.43 L999.66,1087.72 L1000.98,1087.01 L1002.29,1086.31 L1003.61,1085.61 L1004.94,1084.91 L1006.26,1084.22 L1007.59,1083.53 L1008.91,1082.84 L1010.25,1082.16 L1011.58,1081.49 L1012.91,1080.81 L1014.25,1080.14 L1015.59,1079.48 L1016.93,1078.82 L1018.27,1078.16 L1019.62,1077.51 L1020.96,1076.86 L1022.31,1076.21 L1023.66,1075.57 L1025.01,1074.93 L1026.37,1074.30 L1027.72,1073.67 L1029.08,1073.04 L1030.44,1072.42 L1031.80,1071.80 L1033.17,1071.19 L1034.53,1070.58 L1035.90,1069.97 L1037.27,1069.36 L1038.63,1068.76 L1040.01,1068.17 L1041.38,1067.57 L1042.75,1066.98 L1044.13,1066.40 L1045.51,1065.82 L1046.88,1065.24 L1048.26,1064.66 L1049.65,1064.09 L1051.03,1063.52 L1052.41,1062.96 L1053.80,1062.40 L1055.19,1061.84 L1056.58,1061.28 L1057.97,1060.73 L1059.36,1060.19 L1060.75,1059.64 L1062.14,1059.10 L1063.54,1058.56 L1064.94,1058.03 L1066.33,1057.50 L1067.73,1056.97 L1069.13,1056.45 L1070.54,1055.93 L1071.94,1055.41 L1073.35,1054.89 L1074.75,1054.38 L1076.16,1053.88 L1077.57,1053.37 L1078.98,1052.87 L1080.39,1052.37 L1081.80,1051.88 L1083.21,1051.38 L1084.63,1050.90 L1086.04,1050.41 L1087.46,1049.93 L1088.88,1049.45 L1090.30,1048.97 L1091.72,1048.50 L1093.14,1048.03 L1094.56,1047.56 L1095.99,1047.10 L1097.41,1046.64 L1098.84,1046.18 L1100.27,1045.72 L1101.69,1045.27 L1103.12,1044.82 L1104.55,1044.38 L1105.98,1043.93 L1107.42,1043.49 L1108.85,1043.05 L1110.28,1042.62 L1111.72,1042.19 L1113.16,1041.76 L1114.59,1041.33 L1116.03,1040.91 L1117.47,1040.49 L1118.91,1040.07 L1120.35,1039.65 L1121.80,1039.24 L1123.24,1038.83 L1124.68,1038.43 L1126.13,1038.02 L1127.57,1037.62 L1129.02,1037.22 L1130.47,1036.83 L1131.92,1036.43 L1133.37,1036.04 L1134.82,1035.65 L1136.27,1035.27 L1137.72,1034.88 L1139.17,1034.50 L1140.62,1034.13 L1142.08,1033.75 L1143.53,1033.38 L1144.99,1033.01 L1146.45,1032.64 L1147.90,1032.27 L1149.36,1031.91 L1150.82,1031.55 L1152.28,1031.19 L1153.74,1030.84 L1155.20,1030.48 L1156.66,1030.13 L1158.12,1029.78 L1159.59,1029.44 L1161.05,1029.09 L1162.52,1028.75 L1163.98,1028.41 L1165.45,1028.07 L1166.91,1027.74 L1168.38,1027.41 L1169.85,1027.08 L1171.31,1026.75 L1172.78,1026.42 L1174.25,1026.10 L1175.72,1025.78 L1177.19,1025.46 L1178.66,1025.14 L1180.13,1024.83 L1181.60,1024.51 L1183.08,1024.20 L1184.55,1023.89 L1186.02,1023.59 L1187.50,1023.28 L1188.97,1022.98 L1190.44,1022.68 L1191.92,1022.38 L1193.39,1022.09 L1194.87,1021.79 L1196.35,1021.50 L1197.82,1021.21 L1199.30,1020.92 L1200.78,1020.63 L1202.26,1020.35 L1203.73,1020.07 L1205.21,1019.79 L1206.69,1019.51 L1208.17,1019.23 L1209.65,1018.95 L1211.13,1018.68 L1212.61,1018.41 L1214.09,1018.14 L1215.57,1017.87 L1217.05,1017.60 L1218.53,1017.34 L1220.01,1017.08 L1221.50,1016.82 L1222.98,1016.56 L1224.46,1016.30 L1225.94,1016.04 L1227.42,1015.79 L1228.91,1015.53 L1230.39,1015.28 L1231.87,1015.03 L1233.36,1014.79 L1234.84,1014.54 L1236.32,1014.29 L1237.81,1014.05 L1239.29,1013.81 L1240.77,1013.57 L1242.26,1013.33 L1243.74,1013.09 L1245.23,1012.86 L1246.71,1012.62 L1248.19,1012.39 L1249.68,1012.16 L1251.16,1011.93 L1252.65,1011.70 L1254.13,1011.47 L1255.62,1011.25 L1257.10,1011.02 L1258.59,1010.80 L1260.07,1010.58 L1261.56,1010.36 L1263.04,1010.14 L1264.53,1009.93 L1266.01,1009.71 L1267.50,1009.50 L1268.98,1009.28 L1270.47,1009.07 L1271.96,1008.86 L1273.44,1008.65 L1274.93,1008.45 L1276.41,1008.24 L1277.90,1008.04 L1279.39,1007.83 L1280.87,1007.63 L1282.36,1007.43 L1283.85,1007.23 L1285.33,1007.03 L1286.82,1006.84 L1288.31,1006.64 L1289.79,1006.45 L1291.28,1006.26 L1292.77,1006.07 L1294.26,1005.88 L1295.74,1005.69 L1297.23,1005.50 L1298.72,1005.31 L1300.20,1005.13 L1301.69,1004.95 L1303.18,1004.76 L1304.67,1004.58 L1306.16,1004.40 L1307.64,1004.23 L1309.13,1004.05 L1310.62,1003.87 L1312.11,1003.70 L1313.60,1003.52 L1315.09,1003.35 L1316.57,1003.18 L1318.06,1003.01 L1319.55,1002.84 L1321.04,1002.68 L1322.53,1002.51 L1324.02,1002.34 L1325.51,1002.18 L1327.00,1002.02 L1328.49,1001.86 L1329.98,1001.70 L1331.47,1001.54 L1332.95,1001.38 L1334.44,1001.22 L1335.93,1001.07 L1337.42,1000.91 L1338.91,1000.76 L1340.40,1000.61 L1341.89,1000.45 L1343.38,1000.30 L1344.87,1000.15 L1346.36,1000.01 L1347.85,999.86 L1349.35,999.71 L1350.84,999.57 L1352.33,999.42 L1353.82,999.28 L1355.31,999.14 L1356.80,999.00 L1358.29,998.86 L1359.78,998.72 L1361.27,998.58 L1362.76,998.45 L1364.25,998.31 L1365.75,998.18 L1367.24,998.04 L1368.73,997.91 L1370.22,997.78 L1371.71,997.65 L1373.20,997.52 L1374.69,997.39 L1376.19,997.26 L1377.68,997.14 L1379.17,997.01 L1380.66,996.89 L1382.15,996.76 L1383.65,996.64 L1385.14,996.52 L1386.63,996.40 L1388.12,996.28 L1389.62,996.16 L1391.11,996.04 L1392.60,995.92 L1394.09,995.81 L1395.59,995.69 L1397.08,995.58 L1398.57,995.46 L1400.07,995.35 L1401.56,995.24 L1403.05,995.13 L1404.55,995.02 L1406.04,994.91 L1407.53,994.80 L1409.03,994.69 L1410.52,994.59 L1412.01,994.48 L1413.51,994.38 L1415.00,994.27 L1416.49,994.17 L1417.99,994.06 L1419.48,993.96 L1420.98,993.86 L1422.47,993.76 L1423.96,993.66 L1425.46,993.56 L1426.95,993.46 L1428.45,993.37 L1429.94,993.27 L1431.43,993.18 L1432.93,993.08 L1434.42,992.99 L1435.92,992.89 L1437.41,992.80 L1438.91,992.71 L1440.40,992.62 L1441.90,992.52 L1443.39,992.43 L1444.89,992.35 L1446.38,992.26 L1447.88,992.17 L1449.37,992.08 L1450.87,992.00 L1452.36,991.91 L1453.86,991.82 L1455.35,991.74 L1456.85,991.66 L1458.35,991.57 L1459.84,991.49 L1461.34,991.41 L1462.83,991.33 L1464.33,991.25 L1465.82,991.16 L1467.32,991.09 L1468.82,991.01 L1470.31,990.93 L1471.81,990.85 L1473.30,990.77 L1474.80,990.70 L1476.30,990.62 L1477.79,990.54 L1479.29,990.47 L1480.78,990.40 L1482.28,990.32 L1483.78,990.25 L1485.27,990.18 L1486.77,990.10 L1488.27,990.03 L1489.76,989.96 L1491.26,989.89 L1492.76,989.82 L1494.25,989.75 L1495.75,989.68 L1497.25,989.61 L1498.75,989.54 L1500.24,989.48 L1501.74,989.41 L1503.24,989.34 L1504.73,989.27 L1506.23,989.21 L1507.73,989.14 L1509.23,989.08 L1510.72,989.01 L1512.22,988.95 L1513.72,988.89 L1515.22,988.82 L1516.71,988.76 L1518.21,988.70 L1519.71,988.64 L1521.21,988.58 L1522.71,988.51 L1524.20,988.45 L1525.70,988.39 L1527.20,988.34 L1528.70,988.28 L1530.19,988.22 L1531.69,988.16 L1533.19,988.10 L1534.69,988.05 L1536.19,987.99 L1537.69,987.93 L1539.18,987.88 L1540.68,987.82 L1542.18,987.77 L1543.68,987.71 L1545.18,987.66 L1546.68,987.61 L1548.17,987.55 L1549.67,987.50 L1551.17,987.45 L1552.67,987.40 L1554.17,987.35 L1555.67,987.30 L1557.17,987.25 L1558.67,987.20 L1560.16,987.15 L1561.66,987.10 L1563.16,987.05 L1564.66,987.00 L1566.16,986.96 L1567.66,986.91 L1569.16,986.86 L1570.66,986.82 L1572.16,986.77 L1573.66,986.73 L1575.15,986.68 L1576.65,986.64 L1578.15,986.59 L1579.65,986.55 L1581.15,986.51 L1582.65,986.47 L1584.15,986.43 L1585.65,986.38 L1587.15,986.34 L1588.65,986.30 L1590.15,986.26 L1591.65,986.22 L1593.15,986.18 L1594.65,986.15 L1596.15,986.11 L1597.65,986.07 L1599.15,986.03 L1600.65,986.00 L1602.15,985.96 L1603.65,985.92 L1605.15,985.89 L1606.65,985.85 L1608.15,985.82 L1609.64,985.79 L1611.14,985.75 L1612.64,985.72 L1614.14,985.69 L1615.64,985.66 L1617.14,985.62 L1618.64,985.59 L1620.14,985.56 L1621.64,985.53 L1623.15,985.50 L1624.65,985.47 L1626.15,985.44 L1627.65,985.42 L1629.15,985.39 L1630.65,985.36 L1632.15,985.33 L1633.65,985.31 L1635.15,985.28 L1636.65,985.26 L1638.15,985.23 L1639.65,985.21 L1641.15,985.18 L1642.65,985.16 L1644.15,985.13 L1645.65,985.11 L1647.15,985.09 L1648.65,985.07 L1650.15,985.04 L1651.65,985.02 L1653.15,985.00 L1654.65,984.98 L1656.15,984.96 L1657.65,984.94 L1659.15,984.93 L1660.65,984.91 L1662.15,984.89 L1663.66,984.87 L1665.16,984.85 L1666.66,984.84 L1668.16,984.82 L1669.66,984.81 L1671.16,984.79 L1672.66,984.78 L1674.16,984.76 L1675.66,984.75 L1677.16,984.73 L1678.66,984.72 L1680.16,984.71 L1681.66,984.70 L1683.16,984.69 L1684.66,984.67 L1686.17,984.66 L1687.67,984.65 L1689.17,984.64 L1690.67,984.63 L1692.17,984.63 L1693.67,984.62 L1695.17,984.61 L1696.67,984.60 L1698.17,984.59 L1699.67,984.59 L1701.17,984.58 L1702.67,984.58 L1704.17,984.57 L1705.68,984.57 L1707.18,984.56 L1708.68,984.56 L1710.18,984.55 L1711.68,984.55 L1713.18,984.55 L1714.68,984.55 L1716.18,984.55 L1717.68,984.54 L1719.18,984.54 L1720.68,984.54 L1722.18,984.54 L1723.69,984.54 L1725.19,984.54 L1726.69,984.55 L1728.19,984.55 L1729.69,984.55 L1731.19,984.55 L1732.69,984.56 L1734.19,984.56 L1735.69,984.56 L1737.19,984.57 L1738.69,984.57 L1740.19,984.58 L1741.69,984.59 L1743.20,984.59 L1744.70,984.60 L1746.20,984.61 L1747.70,984.61 L1749.20,984.62 L1750.70,984.63 L1752.20,984.64 L1753.70,984.65 L1755.20,984.66 L1756.70,984.67 L1758.20,984.68 L1759.70,984.69 L1761.20,984.70 L1762.71,984.71 L1764.21,984.73 L1765.71,984.74 L1767.21,984.75 L1768.71,984.77 L1770.21,984.78 L1771.71,984.80 L1773.21,984.81 L1774.71,984.83 L1776.21,984.84 L1777.71,984.86 L1779.21,984.88 L1780.71,984.90 L1782.21,984.91 L1783.71,984.93 L1785.21,984.95 L1786.71,984.97 L1788.21,984.99 L1789.72,985.01 L1791.22,985.03 L1792.72,985.05 L1794.22,985.07 L1795.72,985.09 L1797.22,985.12 L1798.72,985.14 L1800.22,985.16 L1801.72,985.19 L1803.22,985.21 L1804.72,985.23 L1806.22,985.26 L1807.72,985.29 L1809.22,985.31 L1810.72,985.34 L1812.22,985.36 L1813.72,985.39 L1815.22,985.42 L1816.72,985.45 L1818.22,985.48 L1819.72,985.50 L1821.22,985.53 L1822.72,985.56 L1824.22,985.59 L1825.72,985.62 L1827.22,985.66 L1828.72,985.69 L1830.22,985.72 L1831.72,985.75 L1833.22,985.78 L1834.72,985.82 L1836.22,985.85 L1837.72,985.88 L1839.22,985.92 L1840.72,985.95 L1842.22,985.99 L1843.72,986.03 L1845.22,986.06 L1846.72,986.10 L1848.22,986.14 L1849.72,986.17 L1851.22,986.21 L1852.71,986.25 L1854.21,986.29 L1855.71,986.33 L1857.21,986.37 L1858.71,986.41 L1860.21,986.45 L1861.71,986.49 L1863.21,986.53 L1864.71,986.57 L1866.21,986.62 L1867.71,986.66 L1869.21,986.70 L1870.71,986.75 L1872.20,986.79 L1873.70,986.83 L1875.20,986.88 L1876.70,986.93 L1878.20,986.97 L1879.70,987.02 L1881.20,987.06 L1882.70,987.11 L1884.20,987.16 L1885.69,987.21 L1887.19,987.26 L1888.69,987.30 L1890.19,987.35 L1891.69,987.40 L1893.19,987.45 L1894.69,987.50 L1896.18,987.56 L1897.68,987.61 L1899.18,987.66 L1900.68,987.71 L1902.18,987.76 L1903.68,987.82 L1905.17,987.87 L1906.67,987.92 L1908.17,987.98 L1909.67,988.03 L1911.17,988.09 L1912.66,988.15 L1914.16,988.20 L1915.66,988.26 L1917.16,988.31 L1918.65,988.37 L1920.15,988.43 L1921.65,988.49 L1923.15,988.55 L1924.65,988.61 L1926.14,988.67 L1927.64,988.73 L1929.14,988.79 L1930.63,988.85 L1932.13,988.91 L1933.63,988.97 L1935.13,989.03 L1936.62,989.10 L1938.12,989.16 L1939.62,989.22 L1941.12,989.29 L1942.61,989.35 L1944.11,989.41 L1945.61,989.48 L1947.10,989.55 L1948.60,989.61 L1950.10,989.68 L1951.59,989.74 L1953.09,989.81 L1954.59,989.88 L1956.08,989.95 L1957.58,990.02 L1959.08,990.09 L1960.57,990.15 L1962.07,990.22 L1963.56,990.29 L1965.06,990.37 L1966.56,990.44 L1968.05,990.51 L1969.55,990.58 L1971.04,990.65 L1972.54,990.73 L1974.04,990.80 L1975.53,990.87 L1977.03,990.95 L1978.52,991.02 L1980.02,991.10 L1981.51,991.17 L1983.01,991.25 L1984.50,991.32 L1986.00,991.40" fill="none" stroke="#1A6FDF" stroke-width="6" clip-path="url(#ch)"/>
<g stroke-width="5.8" fill="none">
<line x1="155.8" y1="1426.9" x2="783.8" y2="1426.9" stroke="#252525"/>
<line x1="155.8" y1="1411.6" x2="155.8" y2="1442.4" stroke="#252525" stroke-width="5.6"/>
<line x1="783.8" y1="1411.6" x2="783.8" y2="1442.4" stroke="#252525" stroke-width="5.6"/>
<line x1="158.4" y1="1335.0" x2="798.9" y2="1335.0" stroke="#37AD6B"/>
<line x1="158.4" y1="1319.2" x2="158.4" y2="1349.8" stroke="#37AD6B" stroke-width="5.6"/>
<line x1="798.9" y1="1319.2" x2="798.9" y2="1349.8" stroke="#37AD6B" stroke-width="5.6"/>
</g>
<path d="M236.75,1427.00 L237.85,976.90 L229.40,976.90 L241.30,929.20 L253.00,976.90 L244.35,976.90 L243.25,1427.00 Z" fill="#252525"/>
<path d="M690.35,1322.20 L690.35,1047.30 L681.80,1047.30 L693.60,999.90 L705.40,1047.30 L696.85,1047.30 L696.85,1322.20 Z" fill="#009100"/>
<path d="M690.05,1426.40 L690.05,1375.20 L681.40,1375.20 L693.20,1328.80 L705.00,1375.20 L696.35,1375.20 L696.35,1426.40 Z" fill="#F23F3F"/>
<path d="M690.60,937.80 L690.60,946.80 L681.60,946.80 L693.40,994.30 L705.20,946.80 L696.20,946.80 L696.20,937.80 Z" fill="#F23F3F"/>
<line x1="1759.3" y1="870" x2="1760.6" y2="1485" stroke="#000" stroke-width="6.3" stroke-dasharray="20.3 13.99" stroke-dashoffset="29.49"/>
<g font-family="Liberation Serif, 'Times New Roman', serif" font-size="37" fill="#000">
<text x="149.90" y="1532.0" text-anchor="middle">0.00</text>
<text x="376.40" y="1532.0" text-anchor="middle">0.05</text>
<text x="602.90" y="1532.0" text-anchor="middle">0.10</text>
<text x="829.40" y="1532.0" text-anchor="middle">0.15</text>
<text x="1004.70" y="1532.0" text-anchor="middle">1.0</text>
<text x="1200.56" y="1532.0" text-anchor="middle">1.5</text>
<text x="1396.42" y="1532.0" text-anchor="middle">2.0</text>
<text x="1592.28" y="1532.0" text-anchor="middle">2.5</text>
<text x="1788.14" y="1532.0" text-anchor="middle">3.0</text>
<text x="1984.00" y="1532.0" text-anchor="middle">3.5</text>
<text x="130.8" y="950.20" text-anchor="end">0</text>
<text x="130.8" y="1021.43" text-anchor="end">−50</text>
<text x="130.8" y="1092.67" text-anchor="end">−100</text>
<text x="130.8" y="1163.90" text-anchor="end">−150</text>
<text x="130.8" y="1307.99" text-anchor="end">−1650</text>
<text x="130.8" y="1371.13" text-anchor="end">−1700</text>
<text x="130.8" y="1434.26" text-anchor="end">−1750</text>
<text x="130.8" y="1497.40" text-anchor="end">−1800</text>
</g>
<text font-family="Liberation Serif, 'Times New Roman', serif" font-size="46.5" font-weight="bold" x="1016.6" y="1582.3"><tspan font-style="italic">r</tspan> (a<tspan font-size="32.5" dy="12.4">0</tspan><tspan dy="-12.4">)</tspan></text>
<text font-family="Liberation Serif, 'Times New Roman', serif" font-size="46.4" font-weight="bold" transform="translate(32.5,1240.7) rotate(-90)"><tspan font-style="italic">E</tspan> (eV)</text>
<text font-family="Liberation Serif, 'Times New Roman', serif" font-size="50" font-weight="bold" x="1898.3" y="918.4">(b)</text>
<g font-family="Liberation Serif, 'Times New Roman', serif" font-size="36.7" font-weight="bold">
<text x="406.5" y="1005.3" fill="#252525"><tspan font-style="italic">M</tspan> bands</text>
<text x="710.7" y="981.7" fill="#F23F3F">Change in ionization condition</text>
<text x="328" y="1161.1" fill="#252525" text-anchor="middle">Ionization</text>
<text x="333.3" y="1203.4" fill="#252525" text-anchor="middle">in isolate</text>
<text x="592.9" y="1177.8" fill="#37AD6B" text-anchor="middle">Ionization</text>
<text x="597.2" y="1220.8" fill="#37AD6B" text-anchor="middle">in WDP</text>
<text x="556.5" y="1368.6" fill="#F23F3F" text-anchor="middle">Change in</text>
<text x="561" y="1411.5" fill="#F23F3F" text-anchor="middle">orbital energy</text>
</g>
<line x1="1245.3" y1="1183.2" x2="1350.5" y2="1183.2" stroke="#1A6FDF" stroke-width="6" stroke-linecap="round"/>
<text font-family="Liberation Serif, 'Times New Roman', serif" font-weight="bold" fill="#000"><tspan x="1363.1" y="1198.7" font-size="46.5" font-style="italic">V</tspan><tspan x="1390.3" y="1210.7" font-size="32.8">SCF</tspan><tspan x="1449.7" y="1198.7" font-size="46.5"> of Al</tspan><tspan x="1557.8" y="1179.8" font-size="31">6+</tspan></text>
<text font-family="Liberation Serif, 'Times New Roman', serif" font-size="46.5" font-weight="bold" x="1767.7" y="1201.7"><tspan font-style="italic">r</tspan><tspan x="1787.5" y="1213.2" font-size="32">0</tspan></text>
</svg>
</body></html>
